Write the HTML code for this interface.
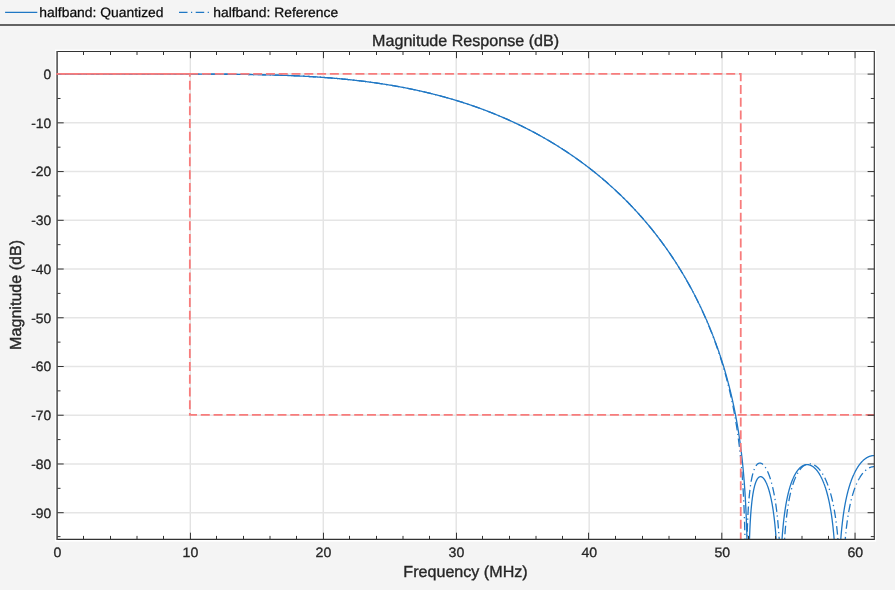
<!DOCTYPE html>
<html><head><meta charset="utf-8"><title>Magnitude Response</title>
<style>html,body{margin:0;padding:0;background:#f4f4f4;overflow:hidden}text{text-rendering:geometricPrecision}body{width:895px;height:590px;font-family:"Liberation Sans",sans-serif}</style></head>
<body>
<svg width="895" height="590" viewBox="0 0 895 590" style="display:block;will-change:transform">
<rect x="0" y="0" width="895" height="590" fill="#f4f4f4"/>
<rect x="0" y="24.0" width="895" height="2.0" fill="#636363"/>
<line x1="5.1" y1="12.35" x2="37.3" y2="12.35" stroke="#1f77c4" stroke-width="1.2"/>
<text transform="translate(39.3 16.7) scale(1.028 1)" font-size="13.5" font-family="Liberation Sans, sans-serif" fill="#0a0a0a" stroke="#0a0a0a" stroke-width="0.25">halfband: Quantized</text>
<line x1="179" y1="12.35" x2="209.5" y2="12.35" stroke="#1f77c4" stroke-width="1.2" stroke-dasharray="8.5 3.5 1.2 3.5"/>
<text transform="translate(213.2 16.7) scale(1.028 1)" font-size="13.5" font-family="Liberation Sans, sans-serif" fill="#0a0a0a" stroke="#0a0a0a" stroke-width="0.25">halfband: Reference</text>
<rect x="55" y="49.6" width="821.2" height="492.0" fill="#ffffff"/>
<line x1="190.26" y1="51.5" x2="190.26" y2="539.4" stroke="#dddddd" stroke-width="1.15"/>
<line x1="323.22" y1="51.5" x2="323.22" y2="539.4" stroke="#dddddd" stroke-width="1.15"/>
<line x1="456.18" y1="51.5" x2="456.18" y2="539.4" stroke="#dddddd" stroke-width="1.15"/>
<line x1="589.13" y1="51.5" x2="589.13" y2="539.4" stroke="#dddddd" stroke-width="1.15"/>
<line x1="722.09" y1="51.5" x2="722.09" y2="539.4" stroke="#dddddd" stroke-width="1.15"/>
<line x1="855.05" y1="51.5" x2="855.05" y2="539.4" stroke="#dddddd" stroke-width="1.15"/>
<line x1="57.0" y1="74.10" x2="874.3" y2="74.10" stroke="#e5e5e5" stroke-width="1.5"/>
<line x1="57.0" y1="122.83" x2="874.3" y2="122.83" stroke="#e5e5e5" stroke-width="1.5"/>
<line x1="57.0" y1="171.57" x2="874.3" y2="171.57" stroke="#e5e5e5" stroke-width="1.5"/>
<line x1="57.0" y1="220.30" x2="874.3" y2="220.30" stroke="#e5e5e5" stroke-width="1.5"/>
<line x1="57.0" y1="269.03" x2="874.3" y2="269.03" stroke="#e5e5e5" stroke-width="1.5"/>
<line x1="57.0" y1="317.77" x2="874.3" y2="317.77" stroke="#e5e5e5" stroke-width="1.5"/>
<line x1="57.0" y1="366.50" x2="874.3" y2="366.50" stroke="#e5e5e5" stroke-width="1.5"/>
<line x1="57.0" y1="415.23" x2="874.3" y2="415.23" stroke="#e5e5e5" stroke-width="1.5"/>
<line x1="57.0" y1="463.97" x2="874.3" y2="463.97" stroke="#e5e5e5" stroke-width="1.5"/>
<line x1="57.0" y1="512.70" x2="874.3" y2="512.70" stroke="#e5e5e5" stroke-width="1.5"/>
<clipPath id="c"><rect x="57.0" y="51.5" width="817.30" height="487.90"/></clipPath>
<g clip-path="url(#c)" fill="none" stroke-linejoin="round">
<path d="M57.30 74.10 L57.71 74.10 L58.12 74.10 L58.53 74.10 L58.93 74.10 L59.34 74.10 L59.75 74.10 L60.16 74.10 L60.57 74.10 L60.98 74.10 L61.39 74.10 L61.79 74.10 L62.20 74.10 L62.61 74.10 L63.02 74.10 L63.43 74.10 L63.84 74.10 L64.24 74.10 L64.65 74.10 L65.06 74.10 L65.47 74.10 L65.88 74.10 L66.29 74.10 L66.70 74.10 L67.10 74.10 L67.51 74.10 L67.92 74.10 L68.33 74.10 L68.74 74.10 L69.15 74.10 L69.56 74.10 L69.96 74.10 L70.37 74.10 L70.78 74.10 L71.19 74.10 L71.60 74.10 L72.01 74.10 L72.42 74.10 L72.82 74.10 L73.23 74.10 L73.64 74.10 L74.05 74.10 L74.46 74.10 L74.87 74.10 L75.27 74.10 L75.68 74.10 L76.09 74.10 L76.50 74.10 L76.91 74.10 L77.32 74.10 L77.73 74.10 L78.13 74.10 L78.54 74.10 L78.95 74.10 L79.36 74.10 L79.77 74.10 L80.18 74.10 L80.59 74.10 L80.99 74.10 L81.40 74.10 L81.81 74.10 L82.22 74.10 L82.63 74.10 L83.04 74.10 L83.45 74.10 L83.85 74.10 L84.26 74.10 L84.67 74.10 L85.08 74.10 L85.49 74.10 L85.90 74.10 L86.30 74.10 L86.71 74.10 L87.12 74.10 L87.53 74.10 L87.94 74.10 L88.35 74.10 L88.76 74.10 L89.16 74.10 L89.57 74.10 L89.98 74.10 L90.39 74.10 L90.80 74.10 L91.21 74.10 L91.62 74.10 L92.02 74.10 L92.43 74.10 L92.84 74.10 L93.25 74.10 L93.66 74.10 L94.07 74.10 L94.47 74.10 L94.88 74.10 L95.29 74.10 L95.70 74.10 L96.11 74.10 L96.52 74.10 L96.93 74.10 L97.33 74.10 L97.74 74.10 L98.15 74.10 L98.56 74.10 L98.97 74.10 L99.38 74.10 L99.79 74.10 L100.19 74.10 L100.60 74.10 L101.01 74.10 L101.42 74.10 L101.83 74.10 L102.24 74.10 L102.65 74.10 L103.05 74.10 L103.46 74.10 L103.87 74.10 L104.28 74.10 L104.69 74.10 L105.10 74.10 L105.50 74.10 L105.91 74.10 L106.32 74.10 L106.73 74.10 L107.14 74.10 L107.55 74.10 L107.96 74.10 L108.36 74.10 L108.77 74.10 L109.18 74.10 L109.59 74.10 L110.00 74.10 L110.41 74.10 L110.82 74.10 L111.22 74.10 L111.63 74.10 L112.04 74.10 L112.45 74.10 L112.86 74.10 L113.27 74.10 L113.68 74.10 L114.08 74.10 L114.49 74.10 L114.90 74.10 L115.31 74.10 L115.72 74.10 L116.13 74.10 L116.53 74.10 L116.94 74.10 L117.35 74.10 L117.76 74.10 L118.17 74.10 L118.58 74.10 L118.99 74.10 L119.39 74.10 L119.80 74.10 L120.21 74.10 L120.62 74.10 L121.03 74.10 L121.44 74.10 L121.85 74.10 L122.25 74.10 L122.66 74.10 L123.07 74.10 L123.48 74.10 L123.89 74.10 L124.30 74.10 L124.71 74.10 L125.11 74.10 L125.52 74.10 L125.93 74.10 L126.34 74.10 L126.75 74.10 L127.16 74.10 L127.56 74.10 L127.97 74.10 L128.38 74.10 L128.79 74.10 L129.20 74.10 L129.61 74.10 L130.02 74.10 L130.42 74.10 L130.83 74.10 L131.24 74.10 L131.65 74.10 L132.06 74.10 L132.47 74.10 L132.88 74.10 L133.28 74.10 L133.69 74.10 L134.10 74.10 L134.51 74.10 L134.92 74.10 L135.33 74.10 L135.74 74.10 L136.14 74.10 L136.55 74.10 L136.96 74.10 L137.37 74.10 L137.78 74.10 L138.19 74.10 L138.59 74.10 L139.00 74.10 L139.41 74.10 L139.82 74.10 L140.23 74.10 L140.64 74.10 L141.05 74.10 L141.45 74.10 L141.86 74.10 L142.27 74.10 L142.68 74.10 L143.09 74.10 L143.50 74.10 L143.91 74.10 L144.31 74.10 L144.72 74.10 L145.13 74.10 L145.54 74.10 L145.95 74.10 L146.36 74.10 L146.77 74.10 L147.17 74.10 L147.58 74.10 L147.99 74.10 L148.40 74.10 L148.81 74.10 L149.22 74.10 L149.62 74.10 L150.03 74.10 L150.44 74.10 L150.85 74.10 L151.26 74.10 L151.67 74.10 L152.08 74.10 L152.48 74.10 L152.89 74.10 L153.30 74.10 L153.71 74.10 L154.12 74.10 L154.53 74.10 L154.94 74.10 L155.34 74.10 L155.75 74.10 L156.16 74.10 L156.57 74.10 L156.98 74.10 L157.39 74.10 L157.79 74.10 L158.20 74.10 L158.61 74.10 L159.02 74.10 L159.43 74.10 L159.84 74.10 L160.25 74.10 L160.65 74.10 L161.06 74.10 L161.47 74.10 L161.88 74.10 L162.29 74.10 L162.70 74.10 L163.11 74.10 L163.51 74.10 L163.92 74.10 L164.33 74.10 L164.74 74.10 L165.15 74.10 L165.56 74.10 L165.97 74.10 L166.37 74.10 L166.78 74.10 L167.19 74.10 L167.60 74.10 L168.01 74.10 L168.42 74.10 L168.82 74.10 L169.23 74.10 L169.64 74.10 L170.05 74.10 L170.46 74.10 L170.87 74.10 L171.28 74.10 L171.68 74.10 L172.09 74.10 L172.50 74.10 L172.91 74.10 L173.32 74.10 L173.73 74.10 L174.14 74.10 L174.54 74.10 L174.95 74.10 L175.36 74.10 L175.77 74.10 L176.18 74.10 L176.59 74.10 L177.00 74.10 L177.40 74.10 L177.81 74.10 L178.22 74.10 L178.63 74.10 L179.04 74.10 L179.45 74.10 L179.85 74.10 L180.26 74.10 L180.67 74.10 L181.08 74.10 L181.49 74.10 L181.90 74.10 L182.31 74.10 L182.71 74.10 L183.12 74.10 L183.53 74.10 L183.94 74.10 L184.35 74.10 L184.76 74.10 L185.17 74.10 L185.57 74.10 L185.98 74.10 L186.39 74.10 L186.80 74.10 L187.21 74.10 L187.62 74.10 L188.03 74.10 L188.43 74.10 L188.84 74.10 L189.25 74.10 L189.66 74.10 L190.07 74.10 L190.48 74.10 L190.88 74.10 L191.29 74.11 L191.70 74.11 L192.11 74.11 L192.52 74.11 L192.93 74.11 L193.34 74.11 L193.74 74.11 L194.15 74.11 L194.56 74.11 L194.97 74.11 L195.38 74.11 L195.79 74.11 L196.20 74.11 L196.60 74.11 L197.01 74.11 L197.42 74.11 L197.83 74.12 L198.24 74.12 L198.65 74.12 L199.06 74.12 L199.46 74.12 L199.87 74.12 L200.28 74.12 L200.69 74.12 L201.10 74.12 L201.51 74.12 L201.91 74.12 L202.32 74.12 L202.73 74.13 L203.14 74.13 L203.55 74.13 L203.96 74.13 L204.37 74.13 L204.77 74.13 L205.18 74.13 L205.59 74.13 L206.00 74.13 L206.41 74.14 L206.82 74.14 L207.23 74.14 L207.63 74.14 L208.04 74.14 L208.45 74.14 L208.86 74.14 L209.27 74.15 L209.68 74.15 L210.09 74.15 L210.49 74.15 L210.90 74.15 L211.31 74.15 L211.72 74.15 L212.13 74.16 L212.54 74.16 L212.94 74.16 L213.35 74.16 L213.76 74.16 L214.17 74.17 L214.58 74.17 L214.99 74.17 L215.40 74.17 L215.80 74.17 L216.21 74.17 L216.62 74.18 L217.03 74.18 L217.44 74.18 L217.85 74.18 L218.26 74.18 L218.66 74.19 L219.07 74.19 L219.48 74.19 L219.89 74.19 L220.30 74.20 L220.71 74.20 L221.11 74.20 L221.52 74.20 L221.93 74.21 L222.34 74.21 L222.75 74.21 L223.16 74.21 L223.57 74.22 L223.97 74.22 L224.38 74.22 L224.79 74.22 L225.20 74.23 L225.61 74.23 L226.02 74.23 L226.43 74.24 L226.83 74.24 L227.24 74.24 L227.65 74.25 L228.06 74.25 L228.47 74.25 L228.88 74.26 L229.29 74.26 L229.69 74.26 L230.10 74.27 L230.51 74.27 L230.92 74.27 L231.33 74.28 L231.74 74.28 L232.14 74.28 L232.55 74.29 L232.96 74.29 L233.37 74.29 L233.78 74.30 L234.19 74.30 L234.60 74.31 L235.00 74.31 L235.41 74.31 L235.82 74.32 L236.23 74.32 L236.64 74.33 L237.05 74.33 L237.46 74.34 L237.86 74.34 L238.27 74.34 L238.68 74.35 L239.09 74.35 L239.50 74.36 L239.91 74.36 L240.32 74.37 L240.72 74.37 L241.13 74.38 L241.54 74.38 L241.95 74.39 L242.36 74.39 L242.77 74.40 L243.17 74.40 L243.58 74.41 L243.99 74.41 L244.40 74.42 L244.81 74.42 L245.22 74.43 L245.63 74.44 L246.03 74.44 L246.44 74.45 L246.85 74.45 L247.26 74.46 L247.67 74.46 L248.08 74.47 L248.49 74.48 L248.89 74.48 L249.30 74.49 L249.71 74.50 L250.12 74.50 L250.53 74.51 L250.94 74.52 L251.35 74.52 L251.75 74.53 L252.16 74.54 L252.57 74.54 L252.98 74.55 L253.39 74.56 L253.80 74.56 L254.20 74.57 L254.61 74.58 L255.02 74.58 L255.43 74.59 L255.84 74.60 L256.25 74.61 L256.66 74.61 L257.06 74.62 L257.47 74.63 L257.88 74.64 L258.29 74.65 L258.70 74.65 L259.11 74.66 L259.52 74.67 L259.92 74.68 L260.33 74.69 L260.74 74.70 L261.15 74.70 L261.56 74.71 L261.97 74.72 L262.38 74.73 L262.78 74.74 L263.19 74.75 L263.60 74.76 L264.01 74.77 L264.42 74.78 L264.83 74.79 L265.23 74.80 L265.64 74.81 L266.05 74.82 L266.46 74.82 L266.87 74.83 L267.28 74.84 L267.69 74.85 L268.09 74.87 L268.50 74.88 L268.91 74.89 L269.32 74.90 L269.73 74.91 L270.14 74.92 L270.55 74.93 L270.95 74.94 L271.36 74.95 L271.77 74.96 L272.18 74.97 L272.59 74.98 L273.00 75.00 L273.41 75.01 L273.81 75.02 L274.22 75.03 L274.63 75.04 L275.04 75.05 L275.45 75.07 L275.86 75.08 L276.26 75.09 L276.67 75.10 L277.08 75.12 L277.49 75.13 L277.90 75.14 L278.31 75.15 L278.72 75.17 L279.12 75.18 L279.53 75.19 L279.94 75.21 L280.35 75.22 L280.76 75.23 L281.17 75.25 L281.58 75.26 L281.98 75.27 L282.39 75.29 L282.80 75.30 L283.21 75.32 L283.62 75.33 L284.03 75.35 L284.43 75.36 L284.84 75.38 L285.25 75.39 L285.66 75.41 L286.07 75.42 L286.48 75.44 L286.89 75.45 L287.29 75.47 L287.70 75.48 L288.11 75.50 L288.52 75.51 L288.93 75.53 L289.34 75.55 L289.75 75.56 L290.15 75.58 L290.56 75.60 L290.97 75.61 L291.38 75.63 L291.79 75.65 L292.20 75.66 L292.61 75.68 L293.01 75.70 L293.42 75.71 L293.83 75.73 L294.24 75.75 L294.65 75.77 L295.06 75.79 L295.46 75.80 L295.87 75.82 L296.28 75.84 L296.69 75.86 L297.10 75.88 L297.51 75.90 L297.92 75.92 L298.32 75.94 L298.73 75.95 L299.14 75.97 L299.55 75.99 L299.96 76.01 L300.37 76.03 L300.78 76.05 L301.18 76.07 L301.59 76.09 L302.00 76.11 L302.41 76.14 L302.82 76.16 L303.23 76.18 L303.64 76.20 L304.04 76.22 L304.45 76.24 L304.86 76.26 L305.27 76.28 L305.68 76.31 L306.09 76.33 L306.49 76.35 L306.90 76.37 L307.31 76.40 L307.72 76.42 L308.13 76.44 L308.54 76.46 L308.95 76.49 L309.35 76.51 L309.76 76.53 L310.17 76.56 L310.58 76.58 L310.99 76.61 L311.40 76.63 L311.81 76.65 L312.21 76.68 L312.62 76.70 L313.03 76.73 L313.44 76.75 L313.85 76.78 L314.26 76.80 L314.67 76.83 L315.07 76.85 L315.48 76.88 L315.89 76.91 L316.30 76.93 L316.71 76.96 L317.12 76.98 L317.52 77.01 L317.93 77.04 L318.34 77.07 L318.75 77.09 L319.16 77.12 L319.57 77.15 L319.98 77.18 L320.38 77.20 L320.79 77.23 L321.20 77.26 L321.61 77.29 L322.02 77.32 L322.43 77.35 L322.84 77.37 L323.24 77.40 L323.65 77.43 L324.06 77.46 L324.47 77.49 L324.88 77.52 L325.29 77.55 L325.70 77.58 L326.10 77.61 L326.51 77.64 L326.92 77.67 L327.33 77.71 L327.74 77.74 L328.15 77.77 L328.55 77.80 L328.96 77.83 L329.37 77.86 L329.78 77.90 L330.19 77.93 L330.60 77.96 L331.01 77.99 L331.41 78.03 L331.82 78.06 L332.23 78.09 L332.64 78.13 L333.05 78.16 L333.46 78.20 L333.87 78.23 L334.27 78.26 L334.68 78.30 L335.09 78.33 L335.50 78.37 L335.91 78.40 L336.32 78.44 L336.73 78.47 L337.13 78.51 L337.54 78.55 L337.95 78.58 L338.36 78.62 L338.77 78.66 L339.18 78.69 L339.58 78.73 L339.99 78.77 L340.40 78.80 L340.81 78.84 L341.22 78.88 L341.63 78.92 L342.04 78.96 L342.44 79.00 L342.85 79.03 L343.26 79.07 L343.67 79.11 L344.08 79.15 L344.49 79.19 L344.90 79.23 L345.30 79.27 L345.71 79.31 L346.12 79.35 L346.53 79.39 L346.94 79.43 L347.35 79.47 L347.75 79.52 L348.16 79.56 L348.57 79.60 L348.98 79.64 L349.39 79.68 L349.80 79.73 L350.21 79.77 L350.61 79.81 L351.02 79.86 L351.43 79.90 L351.84 79.94 L352.25 79.99 L352.66 80.03 L353.07 80.08 L353.47 80.12 L353.88 80.16 L354.29 80.21 L354.70 80.25 L355.11 80.30 L355.52 80.35 L355.93 80.39 L356.33 80.44 L356.74 80.48 L357.15 80.53 L357.56 80.58 L357.97 80.63 L358.38 80.67 L358.78 80.72 L359.19 80.77 L359.60 80.82 L360.01 80.87 L360.42 80.91 L360.83 80.96 L361.24 81.01 L361.64 81.06 L362.05 81.11 L362.46 81.16 L362.87 81.21 L363.28 81.26 L363.69 81.31 L364.10 81.36 L364.50 81.41 L364.91 81.47 L365.32 81.52 L365.73 81.57 L366.14 81.62 L366.55 81.67 L366.96 81.73 L367.36 81.78 L367.77 81.83 L368.18 81.89 L368.59 81.94 L369.00 81.99 L369.41 82.05 L369.81 82.10 L370.22 82.16 L370.63 82.21 L371.04 82.27 L371.45 82.32 L371.86 82.38 L372.27 82.43 L372.67 82.49 L373.08 82.55 L373.49 82.60 L373.90 82.66 L374.31 82.72 L374.72 82.77 L375.13 82.83 L375.53 82.89 L375.94 82.95 L376.35 83.01 L376.76 83.07 L377.17 83.12 L377.58 83.18 L377.99 83.24 L378.39 83.30 L378.80 83.36 L379.21 83.42 L379.62 83.49 L380.03 83.55 L380.44 83.61 L380.84 83.67 L381.25 83.73 L381.66 83.79 L382.07 83.86 L382.48 83.92 L382.89 83.98 L383.30 84.04 L383.70 84.11 L384.11 84.17 L384.52 84.24 L384.93 84.30 L385.34 84.37 L385.75 84.43 L386.16 84.50 L386.56 84.56 L386.97 84.63 L387.38 84.69 L387.79 84.76 L388.20 84.83 L388.61 84.89 L389.02 84.96 L389.42 85.03 L389.83 85.10 L390.24 85.16 L390.65 85.23 L391.06 85.30 L391.47 85.37 L391.87 85.44 L392.28 85.51 L392.69 85.58 L393.10 85.65 L393.51 85.72 L393.92 85.79 L394.33 85.86 L394.73 85.93 L395.14 86.00 L395.55 86.08 L395.96 86.15 L396.37 86.22 L396.78 86.29 L397.19 86.37 L397.59 86.44 L398.00 86.51 L398.41 86.59 L398.82 86.66 L399.23 86.74 L399.64 86.81 L400.04 86.89 L400.45 86.96 L400.86 87.04 L401.27 87.11 L401.68 87.19 L402.09 87.27 L402.50 87.34 L402.90 87.42 L403.31 87.50 L403.72 87.58 L404.13 87.66 L404.54 87.73 L404.95 87.81 L405.36 87.89 L405.76 87.97 L406.17 88.05 L406.58 88.13 L406.99 88.21 L407.40 88.29 L407.81 88.37 L408.22 88.46 L408.62 88.54 L409.03 88.62 L409.44 88.70 L409.85 88.79 L410.26 88.87 L410.67 88.95 L411.07 89.04 L411.48 89.12 L411.89 89.20 L412.30 89.29 L412.71 89.37 L413.12 89.46 L413.53 89.54 L413.93 89.63 L414.34 89.72 L414.75 89.80 L415.16 89.89 L415.57 89.98 L415.98 90.07 L416.39 90.15 L416.79 90.24 L417.20 90.33 L417.61 90.42 L418.02 90.51 L418.43 90.60 L418.84 90.69 L419.25 90.78 L419.65 90.87 L420.06 90.96 L420.47 91.05 L420.88 91.14 L421.29 91.24 L421.70 91.33 L422.10 91.42 L422.51 91.51 L422.92 91.61 L423.33 91.70 L423.74 91.80 L424.15 91.89 L424.56 91.98 L424.96 92.08 L425.37 92.18 L425.78 92.27 L426.19 92.37 L426.60 92.46 L427.01 92.56 L427.42 92.66 L427.82 92.76 L428.23 92.85 L428.64 92.95 L429.05 93.05 L429.46 93.15 L429.87 93.25 L430.28 93.35 L430.68 93.45 L431.09 93.55 L431.50 93.65 L431.91 93.75 L432.32 93.85 L432.73 93.95 L433.13 94.06 L433.54 94.16 L433.95 94.26 L434.36 94.36 L434.77 94.47 L435.18 94.57 L435.59 94.68 L435.99 94.78 L436.40 94.89 L436.81 94.99 L437.22 95.10 L437.63 95.20 L438.04 95.31 L438.45 95.42 L438.85 95.52 L439.26 95.63 L439.67 95.74 L440.08 95.85 L440.49 95.96 L440.90 96.07 L441.31 96.18 L441.71 96.29 L442.12 96.40 L442.53 96.51 L442.94 96.62 L443.35 96.73 L443.76 96.84 L444.16 96.95 L444.57 97.07 L444.98 97.18 L445.39 97.29 L445.80 97.41 L446.21 97.52 L446.62 97.64 L447.02 97.75 L447.43 97.87 L447.84 97.98 L448.25 98.10 L448.66 98.21 L448.93 98.29 L449.20 98.37 L449.48 98.45 L449.75 98.53 L450.02 98.60 L450.29 98.68 L450.56 98.76 L450.84 98.84 L451.11 98.92 L451.38 99.00 L451.65 99.08 L451.93 99.16 L452.20 99.24 L452.47 99.32 L452.74 99.40 L453.02 99.48 L453.29 99.56 L453.56 99.64 L453.83 99.72 L454.11 99.80 L454.38 99.88 L454.65 99.97 L454.92 100.05 L455.19 100.13 L455.47 100.21 L455.74 100.29 L456.01 100.38 L456.28 100.46 L456.56 100.54 L456.83 100.62 L457.10 100.71 L457.37 100.79 L457.65 100.87 L457.92 100.96 L458.19 101.04 L458.46 101.13 L458.74 101.21 L459.01 101.29 L459.28 101.38 L459.55 101.46 L459.82 101.55 L460.10 101.63 L460.37 101.72 L460.64 101.80 L460.91 101.89 L461.19 101.98 L461.46 102.06 L461.73 102.15 L462.00 102.23 L462.28 102.32 L462.55 102.41 L462.82 102.49 L463.09 102.58 L463.36 102.67 L463.64 102.76 L463.91 102.84 L464.18 102.93 L464.45 103.02 L464.73 103.11 L465.00 103.20 L465.27 103.28 L465.54 103.37 L465.82 103.46 L466.09 103.55 L466.36 103.64 L466.63 103.73 L466.91 103.82 L467.18 103.91 L467.45 104.00 L467.72 104.09 L467.99 104.18 L468.27 104.27 L468.54 104.36 L468.81 104.45 L469.08 104.54 L469.36 104.64 L469.63 104.73 L469.90 104.82 L470.17 104.91 L470.45 105.00 L470.72 105.10 L470.99 105.19 L471.26 105.28 L471.54 105.37 L471.81 105.47 L472.08 105.56 L472.35 105.65 L472.62 105.75 L472.90 105.84 L473.17 105.94 L473.44 106.03 L473.71 106.13 L473.99 106.22 L474.26 106.31 L474.53 106.41 L474.80 106.51 L475.08 106.60 L475.35 106.70 L475.62 106.79 L475.89 106.89 L476.17 106.98 L476.44 107.08 L476.71 107.18 L476.98 107.27 L477.25 107.37 L477.53 107.47 L477.80 107.57 L478.07 107.66 L478.34 107.76 L478.62 107.86 L478.89 107.96 L479.16 108.06 L479.43 108.16 L479.71 108.25 L479.98 108.35 L480.25 108.45 L480.52 108.55 L480.80 108.65 L481.07 108.75 L481.34 108.85 L481.61 108.95 L481.88 109.05 L482.16 109.15 L482.43 109.25 L482.70 109.35 L482.97 109.46 L483.25 109.56 L483.52 109.66 L483.79 109.76 L484.06 109.86 L484.34 109.97 L484.61 110.07 L484.88 110.17 L485.15 110.27 L485.42 110.38 L485.70 110.48 L485.97 110.58 L486.24 110.69 L486.51 110.79 L486.79 110.90 L487.06 111.00 L487.33 111.10 L487.60 111.21 L487.88 111.31 L488.15 111.42 L488.42 111.52 L488.69 111.63 L488.97 111.74 L489.24 111.84 L489.51 111.95 L489.78 112.05 L490.05 112.16 L490.33 112.27 L490.60 112.37 L490.87 112.48 L491.14 112.59 L491.42 112.70 L491.69 112.81 L491.96 112.91 L492.23 113.02 L492.51 113.13 L492.78 113.24 L493.05 113.35 L493.32 113.46 L493.60 113.57 L493.87 113.68 L494.14 113.79 L494.41 113.90 L494.68 114.01 L494.96 114.12 L495.23 114.23 L495.50 114.34 L495.77 114.45 L496.05 114.56 L496.32 114.67 L496.59 114.78 L496.86 114.90 L497.14 115.01 L497.41 115.12 L497.68 115.23 L497.95 115.35 L498.23 115.46 L498.50 115.57 L498.77 115.69 L499.04 115.80 L499.31 115.91 L499.59 116.03 L499.86 116.14 L500.13 116.26 L500.40 116.37 L500.68 116.49 L500.95 116.60 L501.22 116.72 L501.49 116.83 L501.77 116.95 L502.04 117.07 L502.31 117.18 L502.58 117.30 L502.85 117.42 L503.13 117.53 L503.40 117.65 L503.67 117.77 L503.94 117.89 L504.22 118.00 L504.49 118.12 L504.76 118.24 L505.03 118.36 L505.31 118.48 L505.58 118.60 L505.85 118.72 L506.12 118.84 L506.40 118.96 L506.67 119.08 L506.94 119.20 L507.21 119.32 L507.48 119.44 L507.76 119.56 L508.03 119.68 L508.30 119.80 L508.57 119.92 L508.85 120.04 L509.12 120.17 L509.39 120.29 L509.66 120.41 L509.94 120.53 L510.21 120.66 L510.48 120.78 L510.75 120.90 L511.03 121.03 L511.30 121.15 L511.57 121.28 L511.84 121.40 L512.11 121.53 L512.39 121.65 L512.66 121.78 L512.93 121.90 L513.20 122.03 L513.48 122.15 L513.75 122.28 L514.02 122.41 L514.29 122.53 L514.57 122.66 L514.84 122.79 L515.11 122.91 L515.38 123.04 L515.66 123.17 L515.93 123.30 L516.20 123.42 L516.47 123.55 L516.74 123.68 L517.02 123.81 L517.29 123.94 L517.56 124.07 L517.83 124.20 L518.11 124.33 L518.38 124.46 L518.65 124.59 L518.92 124.72 L519.20 124.85 L519.47 124.98 L519.74 125.11 L520.01 125.25 L520.28 125.38 L520.56 125.51 L520.83 125.64 L521.10 125.78 L521.37 125.91 L521.65 126.04 L521.92 126.18 L522.19 126.31 L522.46 126.44 L522.74 126.58 L523.01 126.71 L523.28 126.85 L523.55 126.98 L523.83 127.12 L524.10 127.25 L524.37 127.39 L524.64 127.52 L524.91 127.66 L525.19 127.80 L525.46 127.93 L525.73 128.07 L526.00 128.21 L526.28 128.34 L526.55 128.48 L526.82 128.62 L527.09 128.76 L527.37 128.90 L527.64 129.04 L527.91 129.17 L528.18 129.31 L528.46 129.45 L528.73 129.59 L529.00 129.73 L529.27 129.87 L529.54 130.01 L529.82 130.15 L530.09 130.30 L530.36 130.44 L530.63 130.58 L530.91 130.72 L531.18 130.86 L531.45 131.01 L531.72 131.15 L532.00 131.29 L532.27 131.43 L532.54 131.58 L532.81 131.72 L533.09 131.87 L533.36 132.01 L533.63 132.15 L533.90 132.30 L534.17 132.44 L534.45 132.59 L534.72 132.73 L534.99 132.88 L535.26 133.03 L535.54 133.17 L535.81 133.32 L536.08 133.47 L536.35 133.61 L536.63 133.76 L536.90 133.91 L537.17 134.06 L537.44 134.21 L537.71 134.35 L537.99 134.50 L538.26 134.65 L538.53 134.80 L538.80 134.95 L539.08 135.10 L539.35 135.25 L539.62 135.40 L539.89 135.55 L540.17 135.70 L540.44 135.85 L540.71 136.01 L540.98 136.16 L541.26 136.31 L541.53 136.46 L541.80 136.62 L542.07 136.77 L542.34 136.92 L542.62 137.08 L542.89 137.23 L543.16 137.38 L543.43 137.54 L543.71 137.69 L543.98 137.85 L544.25 138.00 L544.52 138.16 L544.80 138.31 L545.07 138.47 L545.34 138.63 L545.61 138.78 L545.89 138.94 L546.16 139.10 L546.43 139.26 L546.70 139.41 L546.97 139.57 L547.25 139.73 L547.52 139.89 L547.79 140.05 L548.06 140.21 L548.34 140.37 L548.61 140.53 L548.88 140.69 L549.15 140.85 L549.43 141.01 L549.70 141.17 L549.97 141.33 L550.24 141.49 L550.52 141.65 L550.79 141.82 L551.06 141.98 L551.33 142.14 L551.60 142.30 L551.88 142.47 L552.15 142.63 L552.42 142.80 L552.69 142.96 L552.97 143.12 L553.24 143.29 L553.51 143.45 L553.78 143.62 L554.06 143.79 L554.33 143.95 L554.60 144.12 L554.87 144.28 L555.14 144.45 L555.42 144.62 L555.69 144.79 L555.96 144.95 L556.23 145.12 L556.51 145.29 L556.78 145.46 L557.05 145.63 L557.32 145.80 L557.60 145.97 L557.87 146.14 L558.14 146.31 L558.41 146.48 L558.69 146.65 L558.96 146.82 L559.23 146.99 L559.50 147.17 L559.77 147.34 L560.05 147.51 L560.32 147.68 L560.59 147.86 L560.86 148.03 L561.14 148.21 L561.41 148.38 L561.68 148.55 L561.95 148.73 L562.23 148.90 L562.50 149.08 L562.77 149.26 L563.04 149.43 L563.32 149.61 L563.59 149.78 L563.86 149.96 L564.13 150.14 L564.40 150.32 L564.68 150.50 L564.95 150.67 L565.22 150.85 L565.49 151.03 L565.77 151.21 L566.04 151.39 L566.31 151.57 L566.58 151.75 L566.86 151.93 L567.13 152.11 L567.40 152.29 L567.67 152.48 L567.95 152.66 L568.22 152.84 L568.49 153.02 L568.76 153.21 L569.03 153.39 L569.31 153.57 L569.58 153.76 L569.85 153.94 L570.12 154.13 L570.40 154.31 L570.67 154.50 L570.94 154.68 L571.21 154.87 L571.49 155.06 L571.76 155.24 L572.03 155.43 L572.30 155.62 L572.57 155.80 L572.85 155.99 L573.12 156.18 L573.39 156.37 L573.66 156.56 L573.94 156.75 L574.21 156.94 L574.48 157.13 L574.75 157.32 L575.03 157.51 L575.30 157.70 L575.57 157.89 L575.84 158.09 L576.12 158.28 L576.39 158.47 L576.66 158.66 L576.93 158.86 L577.20 159.05 L577.48 159.24 L577.75 159.44 L578.02 159.63 L578.29 159.83 L578.57 160.02 L578.84 160.22 L579.11 160.42 L579.38 160.61 L579.66 160.81 L579.93 161.01 L580.20 161.21 L580.47 161.40 L580.75 161.60 L581.02 161.80 L581.29 162.00 L581.56 162.20 L581.83 162.40 L582.11 162.60 L582.38 162.80 L582.65 163.00 L582.92 163.20 L583.20 163.41 L583.47 163.61 L583.74 163.81 L584.01 164.01 L584.29 164.22 L584.56 164.42 L584.83 164.62 L585.10 164.83 L585.38 165.03 L585.65 165.24 L585.92 165.45 L586.19 165.65 L586.46 165.86 L586.74 166.06 L587.01 166.27 L587.28 166.48 L587.55 166.69 L587.83 166.90 L588.10 167.10 L588.37 167.31 L588.64 167.52 L588.92 167.73 L589.19 167.94 L589.46 168.15 L589.73 168.36 L590.00 168.58 L590.28 168.79 L590.55 169.00 L590.82 169.21 L591.09 169.43 L591.37 169.64 L591.64 169.85 L591.91 170.07 L592.18 170.28 L592.46 170.50 L592.73 170.71 L593.00 170.93 L593.27 171.15 L593.55 171.36 L593.82 171.58 L594.09 171.80 L594.36 172.01 L594.63 172.23 L594.91 172.45 L595.18 172.67 L595.45 172.89 L595.72 173.11 L596.00 173.33 L596.27 173.55 L596.54 173.77 L596.81 173.99 L597.09 174.22 L597.36 174.44 L597.63 174.66 L597.90 174.89 L598.18 175.11 L598.45 175.33 L598.72 175.56 L598.99 175.78 L599.26 176.01 L599.54 176.23 L599.81 176.46 L600.08 176.69 L600.35 176.92 L600.63 177.14 L600.90 177.37 L601.17 177.60 L601.44 177.83 L601.72 178.06 L601.99 178.29 L602.26 178.52 L602.53 178.75 L602.81 178.98 L603.08 179.21 L603.35 179.44 L603.62 179.68 L603.89 179.91 L604.17 180.14 L604.44 180.38 L604.71 180.61 L604.98 180.85 L605.26 181.08 L605.53 181.32 L605.80 181.55 L606.07 181.79 L606.35 182.03 L606.62 182.26 L606.89 182.50 L607.16 182.74 L607.43 182.98 L607.71 183.22 L607.98 183.46 L608.25 183.70 L608.52 183.94 L608.80 184.18 L609.07 184.42 L609.34 184.67 L609.61 184.91 L609.89 185.15 L610.16 185.39 L610.43 185.64 L610.70 185.88 L610.98 186.13 L611.25 186.37 L611.52 186.62 L611.79 186.87 L612.06 187.11 L612.34 187.36 L612.61 187.61 L612.88 187.86 L613.15 188.11 L613.43 188.36 L613.70 188.61 L613.97 188.86 L614.24 189.11 L614.52 189.36 L614.79 189.61 L615.06 189.86 L615.33 190.12 L615.61 190.37 L615.88 190.62 L616.15 190.88 L616.42 191.13 L616.69 191.39 L616.97 191.64 L617.24 191.90 L617.51 192.16 L617.78 192.41 L618.06 192.67 L618.33 192.93 L618.60 193.19 L618.87 193.45 L619.15 193.71 L619.42 193.97 L619.69 194.23 L619.96 194.49 L620.24 194.76 L620.51 195.02 L620.78 195.28 L621.05 195.55 L621.32 195.81 L621.60 196.07 L621.87 196.34 L622.14 196.61 L622.41 196.87 L622.69 197.14 L622.96 197.41 L623.23 197.68 L623.50 197.94 L623.78 198.21 L624.05 198.48 L624.32 198.75 L624.59 199.02 L624.87 199.30 L625.14 199.57 L625.41 199.84 L625.68 200.11 L625.95 200.39 L626.23 200.66 L626.50 200.94 L626.77 201.21 L627.04 201.49 L627.32 201.76 L627.59 202.04 L627.86 202.32 L628.13 202.60 L628.41 202.88 L628.68 203.15 L628.95 203.43 L629.22 203.72 L629.49 204.00 L629.77 204.28 L630.04 204.56 L630.31 204.84 L630.58 205.13 L630.86 205.41 L631.13 205.70 L631.40 205.98 L631.67 206.27 L631.95 206.55 L632.22 206.84 L632.49 207.13 L632.76 207.42 L633.04 207.71 L633.31 208.00 L633.58 208.29 L633.85 208.58 L634.12 208.87 L634.40 209.16 L634.67 209.45 L634.94 209.75 L635.21 210.04 L635.49 210.33 L635.76 210.63 L636.03 210.93 L636.30 211.22 L636.58 211.52 L636.85 211.82 L637.12 212.12 L637.39 212.41 L637.67 212.71 L637.94 213.01 L638.21 213.32 L638.48 213.62 L638.75 213.92 L639.03 214.22 L639.30 214.53 L639.57 214.83 L639.84 215.14 L640.12 215.44 L640.39 215.75 L640.66 216.05 L640.93 216.36 L641.21 216.67 L641.48 216.98 L641.75 217.29 L642.02 217.60 L642.30 217.91 L642.57 218.22 L642.84 218.54 L643.11 218.85 L643.38 219.16 L643.66 219.48 L643.93 219.79 L644.20 220.11 L644.47 220.42 L644.75 220.74 L645.02 221.06 L645.29 221.38 L645.56 221.70 L645.84 222.02 L646.11 222.34 L646.38 222.66 L646.65 222.98 L646.92 223.31 L647.20 223.63 L647.47 223.96 L647.74 224.28 L648.01 224.61 L648.29 224.93 L648.56 225.26 L648.83 225.59 L649.10 225.92 L649.38 226.25 L649.65 226.58 L649.92 226.91 L650.19 227.24 L650.47 227.58 L650.74 227.91 L651.01 228.25 L651.28 228.58 L651.55 228.92 L651.83 229.26 L652.10 229.59 L652.37 229.93 L652.64 230.27 L652.92 230.61 L653.19 230.95 L653.46 231.29 L653.73 231.64 L654.01 231.98 L654.28 232.32 L654.55 232.67 L654.82 233.02 L655.10 233.36 L655.37 233.71 L655.64 234.06 L655.91 234.41 L656.18 234.76 L656.46 235.11 L656.73 235.46 L657.00 235.81 L657.27 236.17 L657.55 236.52 L657.82 236.88 L658.09 237.23 L658.36 237.59 L658.64 237.95 L658.91 238.31 L659.18 238.67 L659.45 239.03 L659.73 239.39 L660.00 239.75 L660.27 240.11 L660.54 240.48 L660.81 240.84 L661.09 241.21 L661.36 241.58 L661.63 241.94 L661.90 242.31 L662.18 242.68 L662.45 243.05 L662.72 243.42 L662.99 243.80 L663.27 244.17 L663.54 244.54 L663.81 244.92 L664.08 245.30 L664.35 245.67 L664.63 246.05 L664.90 246.43 L665.17 246.81 L665.44 247.19 L665.72 247.57 L665.99 247.96 L666.26 248.34 L666.53 248.73 L666.81 249.11 L667.08 249.50 L667.35 249.89 L667.62 250.28 L667.90 250.67 L668.17 251.06 L668.44 251.45 L668.71 251.85 L668.98 252.24 L669.26 252.64 L669.53 253.03 L669.80 253.43 L670.07 253.83 L670.35 254.23 L670.62 254.63 L670.89 255.03 L671.16 255.44 L671.44 255.84 L671.71 256.25 L671.98 256.65 L672.25 257.06 L672.53 257.47 L672.80 257.88 L673.07 258.29 L673.34 258.70 L673.61 259.12 L673.89 259.53 L674.16 259.95 L674.43 260.36 L674.70 260.78 L674.98 261.20 L675.25 261.62 L675.52 262.04 L675.79 262.47 L676.07 262.89 L676.34 263.32 L676.61 263.74 L676.88 264.17 L677.02 264.39 L677.16 264.60 L677.29 264.81 L677.43 265.03 L677.56 265.25 L677.70 265.46 L677.84 265.68 L677.97 265.89 L678.11 266.11 L678.24 266.33 L678.38 266.55 L678.52 266.76 L678.65 266.98 L678.79 267.20 L678.93 267.42 L679.06 267.64 L679.20 267.86 L679.33 268.08 L679.47 268.30 L679.61 268.52 L679.74 268.74 L679.88 268.96 L680.01 269.18 L680.15 269.40 L680.29 269.63 L680.42 269.85 L680.56 270.07 L680.70 270.30 L680.83 270.52 L680.97 270.74 L681.10 270.97 L681.24 271.19 L681.38 271.42 L681.51 271.64 L681.65 271.87 L681.78 272.09 L681.92 272.32 L682.06 272.55 L682.19 272.77 L682.33 273.00 L682.47 273.23 L682.60 273.46 L682.74 273.68 L682.87 273.91 L683.01 274.14 L683.15 274.37 L683.28 274.60 L683.42 274.83 L683.56 275.06 L683.69 275.29 L683.83 275.52 L683.96 275.76 L684.10 275.99 L684.24 276.22 L684.37 276.45 L684.51 276.69 L684.64 276.92 L684.78 277.15 L684.92 277.39 L685.05 277.62 L685.19 277.86 L685.33 278.09 L685.46 278.33 L685.60 278.56 L685.73 278.80 L685.87 279.04 L686.01 279.27 L686.14 279.51 L686.28 279.75 L686.41 279.99 L686.55 280.23 L686.69 280.47 L686.82 280.71 L686.96 280.95 L687.10 281.19 L687.23 281.43 L687.37 281.67 L687.50 281.91 L687.64 282.15 L687.78 282.39 L687.91 282.64 L688.05 282.88 L688.19 283.12 L688.32 283.37 L688.46 283.61 L688.59 283.86 L688.73 284.10 L688.87 284.35 L689.00 284.59 L689.14 284.84 L689.27 285.09 L689.41 285.33 L689.55 285.58 L689.68 285.83 L689.82 286.08 L689.96 286.33 L690.09 286.58 L690.23 286.83 L690.36 287.08 L690.50 287.33 L690.64 287.58 L690.77 287.83 L690.91 288.08 L691.04 288.33 L691.18 288.59 L691.32 288.84 L691.45 289.09 L691.59 289.35 L691.73 289.60 L691.86 289.86 L692.00 290.11 L692.13 290.37 L692.27 290.63 L692.41 290.88 L692.54 291.14 L692.68 291.40 L692.81 291.66 L692.95 291.92 L693.09 292.18 L693.22 292.44 L693.36 292.70 L693.50 292.96 L693.63 293.22 L693.77 293.48 L693.90 293.74 L694.04 294.00 L694.18 294.27 L694.31 294.53 L694.45 294.79 L694.59 295.06 L694.72 295.32 L694.86 295.59 L694.99 295.86 L695.13 296.12 L695.27 296.39 L695.40 296.66 L695.54 296.92 L695.67 297.19 L695.81 297.46 L695.95 297.73 L696.08 298.00 L696.22 298.27 L696.36 298.54 L696.49 298.81 L696.63 299.09 L696.76 299.36 L696.90 299.63 L697.04 299.91 L697.17 300.18 L697.31 300.45 L697.44 300.73 L697.58 301.00 L697.72 301.28 L697.85 301.56 L697.99 301.84 L698.13 302.11 L698.26 302.39 L698.40 302.67 L698.53 302.95 L698.67 303.23 L698.81 303.51 L698.94 303.79 L699.08 304.07 L699.21 304.36 L699.35 304.64 L699.49 304.92 L699.62 305.21 L699.76 305.49 L699.90 305.78 L700.03 306.06 L700.17 306.35 L700.30 306.64 L700.44 306.92 L700.58 307.21 L700.71 307.50 L700.85 307.79 L700.99 308.08 L701.12 308.37 L701.26 308.66 L701.39 308.95 L701.53 309.24 L701.67 309.54 L701.80 309.83 L701.94 310.12 L702.07 310.42 L702.21 310.72 L702.35 311.01 L702.48 311.31 L702.62 311.61 L702.76 311.90 L702.89 312.20 L703.03 312.50 L703.16 312.80 L703.30 313.10 L703.44 313.40 L703.57 313.70 L703.71 314.01 L703.84 314.31 L703.98 314.61 L704.12 314.92 L704.25 315.22 L704.39 315.53 L704.53 315.84 L704.66 316.14 L704.80 316.45 L704.93 316.76 L705.07 317.07 L705.21 317.38 L705.34 317.69 L705.48 318.00 L705.62 318.31 L705.75 318.63 L705.89 318.94 L706.02 319.25 L706.16 319.57 L706.30 319.88 L706.43 320.20 L706.57 320.52 L706.70 320.84 L706.84 321.15 L706.98 321.47 L707.11 321.79 L707.25 322.12 L707.39 322.44 L707.52 322.76 L707.66 323.08 L707.79 323.41 L707.93 323.73 L708.07 324.06 L708.20 324.38 L708.34 324.71 L708.47 325.04 L708.61 325.37 L708.75 325.70 L708.88 326.03 L709.02 326.36 L709.16 326.69 L709.29 327.02 L709.43 327.36 L709.56 327.69 L709.70 328.03 L709.84 328.36 L709.97 328.70 L710.11 329.04 L710.24 329.38 L710.38 329.72 L710.52 330.06 L710.65 330.40 L710.79 330.74 L710.93 331.09 L711.06 331.43 L711.20 331.77 L711.33 332.12 L711.47 332.47 L711.61 332.82 L711.74 333.16 L711.88 333.51 L712.02 333.86 L712.15 334.22 L712.29 334.57 L712.42 334.92 L712.56 335.28 L712.70 335.63 L712.83 335.99 L712.97 336.35 L713.10 336.70 L713.24 337.06 L713.38 337.42 L713.51 337.78 L713.65 338.15 L713.79 338.51 L713.92 338.88 L714.06 339.24 L714.19 339.61 L714.33 339.97 L714.47 340.34 L714.60 340.71 L714.74 341.08 L714.87 341.46 L715.01 341.83 L715.15 342.20 L715.28 342.58 L715.42 342.95 L715.56 343.33 L715.69 343.71 L715.83 344.09 L715.96 344.47 L716.10 344.85 L716.24 345.24 L716.37 345.62 L716.51 346.01 L716.64 346.39 L716.78 346.78 L716.92 347.17 L717.05 347.56 L717.19 347.95 L717.33 348.35 L717.46 348.74 L717.60 349.14 L717.73 349.53 L717.87 349.93 L718.01 350.33 L718.14 350.73 L718.28 351.13 L718.42 351.54 L718.55 351.94 L718.69 352.35 L718.82 352.75 L718.96 353.16 L719.10 353.57 L719.23 353.98 L719.37 354.40 L719.50 354.81 L719.64 355.23 L719.78 355.64 L719.91 356.06 L720.05 356.48 L720.19 356.90 L720.32 357.33 L720.46 357.75 L720.59 358.18 L720.73 358.61 L720.87 359.04 L721.00 359.47 L721.14 359.90 L721.27 360.33 L721.41 360.77 L721.55 361.21 L721.68 361.65 L721.82 362.09 L721.96 362.53 L722.09 362.97 L722.23 363.42 L722.36 363.87 L722.50 364.31 L722.64 364.77 L722.77 365.22 L722.91 365.67 L723.05 366.13 L723.18 366.59 L723.32 367.05 L723.45 367.51 L723.59 367.97 L723.73 368.44 L723.86 368.91 L724.00 369.38 L724.13 369.85 L724.27 370.32 L724.41 370.80 L724.54 371.28 L724.68 371.76 L724.82 372.24 L724.95 372.72 L725.09 373.21 L725.22 373.70 L725.36 374.19 L725.50 374.68 L725.63 375.17 L725.77 375.67 L725.90 376.17 L726.04 376.67 L726.18 377.18 L726.31 377.68 L726.45 378.19 L726.59 378.70 L726.72 379.22 L726.86 379.73 L726.99 380.25 L727.13 380.77 L727.27 381.30 L727.40 381.83 L727.54 382.36 L727.67 382.89 L727.81 383.42 L727.95 383.96 L728.08 384.50 L728.22 385.04 L728.36 385.59 L728.49 386.14 L728.63 386.69 L728.76 387.25 L728.90 387.81 L729.04 388.37 L729.17 388.93 L729.31 389.50 L729.45 390.07 L729.58 390.64 L729.72 391.22 L729.85 391.80 L729.99 392.39 L730.13 392.97 L730.26 393.57 L730.40 394.16 L730.53 394.76 L730.67 395.36 L730.81 395.97 L730.94 396.58 L731.08 397.19 L731.22 397.81 L731.35 398.43 L731.49 399.06 L731.62 399.69 L731.76 400.32 L731.90 400.96 L732.03 401.61 L732.17 402.25 L732.30 402.91 L732.44 403.56 L732.58 404.23 L732.71 404.89 L732.85 405.56 L732.99 406.24 L733.12 406.92 L733.26 407.61 L733.39 408.30 L733.53 409.00 L733.67 409.70 L733.80 410.41 L733.94 411.13 L734.07 411.85 L734.21 412.58 L734.35 413.31 L734.48 414.05 L734.62 414.79 L734.76 415.55 L734.89 416.31 L735.03 417.07 L735.16 417.85 L735.30 418.63 L735.44 419.41 L735.57 420.21 L735.71 421.01 L735.85 421.82 L735.98 422.64 L736.12 423.47 L736.25 424.31 L736.39 425.15 L736.53 426.01 L736.66 426.87 L736.80 427.74 L736.93 428.63 L737.07 429.52 L737.21 430.42 L737.34 431.34 L737.48 432.26 L737.62 433.20 L737.75 434.15 L737.89 435.11 L738.02 436.09 L738.16 437.07 L738.30 438.07 L738.43 439.09 L738.57 440.12 L738.70 441.16 L738.84 442.22 L738.98 443.30 L739.11 444.39 L739.25 445.50 L739.39 446.63 L739.52 447.77 L739.66 448.94 L739.79 450.13 L739.93 451.33 L740.07 452.56 L740.20 453.82 L740.34 455.09 L740.48 456.40 L740.61 457.73 L740.75 459.09 L740.88 460.47 L741.02 461.89 L741.16 463.34 L741.29 464.83 L741.43 466.35 L741.56 467.92 L741.70 469.52 L741.84 471.17 L741.97 472.86 L742.11 474.61 L742.25 476.41 L742.38 478.26 L742.52 480.18 L742.65 482.17 L742.79 484.23 L742.93 486.37 L743.06 488.59 L743.20 490.91 L743.33 493.34 L743.47 495.88 L743.61 498.54 L743.74 501.36 L743.88 504.33 L744.02 507.49 L744.15 510.86 L744.29 514.47 L744.42 518.37 L744.56 522.60 L744.70 527.25 L744.83 532.39 L744.97 538.17 L745.10 544.77 L745.24 552.48 L745.38 561.78 L745.51 573.52 L745.65 589.57 L745.79 610.17 L746.19 599.94 L746.33 581.39 L746.47 568.69 L746.60 559.06 L746.74 551.32 L746.88 544.87 L747.01 539.34 L747.15 534.52 L747.28 530.26 L747.42 526.44 L747.56 522.98 L747.69 519.84 L747.83 516.95 L747.96 514.29 L748.10 511.82 L748.24 509.53 L748.37 507.38 L748.51 505.37 L748.65 503.48 L748.78 501.70 L748.92 500.02 L749.05 498.43 L749.19 496.92 L749.33 495.49 L749.46 494.13 L749.60 492.83 L749.73 491.60 L749.87 490.41 L750.01 489.28 L750.14 488.20 L750.28 487.17 L750.42 486.18 L750.55 485.22 L750.69 484.31 L750.82 483.43 L750.96 482.59 L751.10 481.78 L751.23 481.00 L751.37 480.24 L751.51 479.52 L751.64 478.82 L751.78 478.15 L751.91 477.50 L752.05 476.88 L752.19 476.27 L752.32 475.69 L752.46 475.13 L752.59 474.59 L752.73 474.07 L752.87 473.56 L753.00 473.08 L753.14 472.61 L753.28 472.15 L753.41 471.72 L753.55 471.29 L753.68 470.89 L753.82 470.49 L753.96 470.11 L754.09 469.75 L754.23 469.39 L754.36 469.05 L754.50 468.72 L754.64 468.41 L754.77 468.10 L754.91 467.81 L755.05 467.53 L755.18 467.26 L755.32 467.00 L755.45 466.75 L755.59 466.50 L755.73 466.27 L755.86 466.05 L756.13 465.64 L756.41 465.26 L756.68 464.91 L756.95 464.60 L757.22 464.32 L757.50 464.07 L757.77 463.85 L758.04 463.66 L758.31 463.50 L758.59 463.36 L758.86 463.25 L759.13 463.17 L759.54 463.09 L759.95 463.06 L760.36 463.09 L760.76 463.17 L761.04 463.25 L761.31 463.35 L761.58 463.48 L761.85 463.62 L762.13 463.79 L762.40 463.97 L762.67 464.18 L762.94 464.41 L763.22 464.66 L763.49 464.93 L763.76 465.22 L764.03 465.53 L764.31 465.86 L764.58 466.21 L764.85 466.58 L765.12 466.97 L765.39 467.38 L765.53 467.60 L765.67 467.81 L765.80 468.04 L765.94 468.27 L766.08 468.50 L766.21 468.74 L766.35 468.99 L766.48 469.24 L766.62 469.50 L766.76 469.76 L766.89 470.03 L767.03 470.30 L767.16 470.58 L767.30 470.86 L767.44 471.15 L767.57 471.45 L767.71 471.75 L767.85 472.06 L767.98 472.37 L768.12 472.69 L768.25 473.01 L768.39 473.34 L768.53 473.68 L768.66 474.02 L768.80 474.37 L768.94 474.73 L769.07 475.09 L769.21 475.46 L769.34 475.83 L769.48 476.22 L769.62 476.61 L769.75 477.00 L769.89 477.40 L770.02 477.81 L770.16 478.23 L770.30 478.66 L770.43 479.09 L770.57 479.53 L770.71 479.97 L770.84 480.43 L770.98 480.89 L771.11 481.36 L771.25 481.84 L771.39 482.33 L771.52 482.83 L771.66 483.33 L771.79 483.85 L771.93 484.37 L772.07 484.90 L772.20 485.45 L772.34 486.00 L772.48 486.56 L772.61 487.14 L772.75 487.72 L772.88 488.31 L773.02 488.92 L773.16 489.54 L773.29 490.16 L773.43 490.80 L773.56 491.46 L773.70 492.12 L773.84 492.80 L773.97 493.49 L774.11 494.20 L774.25 494.92 L774.38 495.66 L774.52 496.41 L774.65 497.17 L774.79 497.96 L774.93 498.76 L775.06 499.58 L775.20 500.41 L775.34 501.27 L775.47 502.14 L775.61 503.04 L775.74 503.95 L775.88 504.89 L776.02 505.85 L776.15 506.84 L776.29 507.85 L776.42 508.89 L776.56 509.95 L776.70 511.05 L776.83 512.17 L776.97 513.33 L777.11 514.52 L777.24 515.75 L777.38 517.02 L777.51 518.33 L777.65 519.68 L777.79 521.07 L777.92 522.52 L778.06 524.01 L778.19 525.56 L778.33 527.18 L778.47 528.85 L778.60 530.60 L778.74 532.42 L778.88 534.32 L779.01 536.32 L779.15 538.41 L779.28 540.61 L779.42 542.94 L779.56 545.40 L779.69 548.00 L779.83 550.78 L779.96 553.76 L780.10 556.95 L780.24 560.41 L780.37 564.17 L780.51 568.29 L780.65 572.86 L780.78 577.98 L780.92 583.79 L781.05 590.53 L781.19 598.54 L781.33 608.41 L781.46 610.17 L781.87 610.17 L782.28 610.17 L782.42 604.79 L782.55 595.74 L782.69 588.31 L782.82 582.00 L782.96 576.52 L783.10 571.67 L783.23 567.34 L783.37 563.41 L783.51 559.82 L783.64 556.53 L783.78 553.47 L783.91 550.63 L784.05 547.98 L784.19 545.48 L784.32 543.13 L784.46 540.91 L784.59 538.81 L784.73 536.81 L784.87 534.90 L785.00 533.09 L785.14 531.35 L785.28 529.69 L785.41 528.09 L785.55 526.56 L785.68 525.08 L785.82 523.66 L785.96 522.29 L786.09 520.97 L786.23 519.69 L786.37 518.45 L786.50 517.25 L786.64 516.09 L786.77 514.97 L786.91 513.88 L787.05 512.81 L787.18 511.78 L787.32 510.78 L787.45 509.81 L787.59 508.86 L787.73 507.93 L787.86 507.03 L788.00 506.15 L788.14 505.29 L788.27 504.46 L788.41 503.64 L788.54 502.84 L788.68 502.06 L788.82 501.30 L788.95 500.55 L789.09 499.83 L789.22 499.11 L789.36 498.41 L789.50 497.73 L789.63 497.06 L789.77 496.41 L789.91 495.77 L790.04 495.14 L790.18 494.52 L790.31 493.92 L790.45 493.33 L790.59 492.75 L790.72 492.18 L790.86 491.62 L790.99 491.07 L791.13 490.53 L791.27 490.00 L791.40 489.48 L791.54 488.97 L791.68 488.47 L791.81 487.98 L791.95 487.50 L792.08 487.03 L792.22 486.56 L792.36 486.10 L792.49 485.65 L792.63 485.21 L792.77 484.78 L792.90 484.35 L793.04 483.93 L793.17 483.52 L793.31 483.11 L793.45 482.71 L793.58 482.32 L793.72 481.93 L793.85 481.55 L793.99 481.18 L794.13 480.81 L794.26 480.45 L794.40 480.10 L794.54 479.75 L794.67 479.40 L794.81 479.07 L794.94 478.73 L795.08 478.41 L795.22 478.08 L795.35 477.77 L795.49 477.46 L795.62 477.15 L795.76 476.85 L795.90 476.55 L796.03 476.26 L796.17 475.97 L796.31 475.69 L796.44 475.41 L796.58 475.14 L796.71 474.87 L796.85 474.60 L796.99 474.34 L797.12 474.09 L797.26 473.83 L797.39 473.59 L797.53 473.34 L797.67 473.10 L797.80 472.87 L797.94 472.64 L798.08 472.41 L798.21 472.18 L798.35 471.96 L798.48 471.75 L798.76 471.32 L799.03 470.92 L799.30 470.52 L799.57 470.14 L799.85 469.77 L800.12 469.42 L800.39 469.08 L800.66 468.75 L800.94 468.43 L801.21 468.13 L801.48 467.84 L801.75 467.56 L802.02 467.29 L802.30 467.03 L802.57 466.78 L802.84 466.55 L803.11 466.32 L803.39 466.10 L803.66 465.90 L803.93 465.71 L804.20 465.52 L804.48 465.35 L804.75 465.18 L805.02 465.03 L805.29 464.89 L805.57 464.75 L805.84 464.63 L806.11 464.51 L806.38 464.40 L806.65 464.30 L806.93 464.22 L807.20 464.14 L807.61 464.03 L808.02 463.95 L808.42 463.89 L808.83 463.84 L809.24 463.82 L809.65 463.82 L810.06 463.83 L810.47 463.86 L810.88 463.92 L811.28 463.99 L811.69 464.08 L812.10 464.19 L812.37 464.27 L812.65 464.36 L812.92 464.46 L813.19 464.57 L813.46 464.69 L813.74 464.81 L814.01 464.95 L814.28 465.09 L814.55 465.24 L814.82 465.40 L815.10 465.57 L815.37 465.75 L815.64 465.93 L815.91 466.13 L816.19 466.33 L816.46 466.54 L816.73 466.76 L817.00 466.99 L817.28 467.23 L817.55 467.48 L817.82 467.73 L818.09 468.00 L818.37 468.28 L818.64 468.56 L818.91 468.86 L819.18 469.16 L819.45 469.47 L819.73 469.80 L820.00 470.13 L820.27 470.48 L820.54 470.83 L820.82 471.20 L821.09 471.57 L821.36 471.96 L821.63 472.36 L821.91 472.77 L822.18 473.19 L822.31 473.40 L822.45 473.62 L822.59 473.84 L822.72 474.06 L822.86 474.29 L823.00 474.52 L823.13 474.75 L823.27 474.99 L823.40 475.22 L823.54 475.47 L823.68 475.71 L823.81 475.96 L823.95 476.21 L824.08 476.47 L824.22 476.72 L824.36 476.98 L824.49 477.25 L824.63 477.52 L824.77 477.79 L824.90 478.06 L825.04 478.34 L825.17 478.63 L825.31 478.91 L825.45 479.20 L825.58 479.50 L825.72 479.79 L825.85 480.09 L825.99 480.40 L826.13 480.71 L826.26 481.02 L826.40 481.34 L826.54 481.66 L826.67 481.99 L826.81 482.32 L826.94 482.65 L827.08 482.99 L827.22 483.33 L827.35 483.68 L827.49 484.03 L827.63 484.39 L827.76 484.75 L827.90 485.11 L828.03 485.48 L828.17 485.86 L828.31 486.24 L828.44 486.63 L828.58 487.02 L828.71 487.42 L828.85 487.82 L828.99 488.23 L829.12 488.64 L829.26 489.06 L829.40 489.48 L829.53 489.92 L829.67 490.35 L829.80 490.80 L829.94 491.25 L830.08 491.70 L830.21 492.16 L830.35 492.63 L830.48 493.11 L830.62 493.59 L830.76 494.08 L830.89 494.58 L831.03 495.09 L831.17 495.60 L831.30 496.12 L831.44 496.65 L831.57 497.19 L831.71 497.73 L831.85 498.29 L831.98 498.85 L832.12 499.43 L832.26 500.01 L832.39 500.60 L832.53 501.20 L832.66 501.81 L832.80 502.44 L832.94 503.07 L833.07 503.72 L833.21 504.37 L833.34 505.04 L833.48 505.72 L833.62 506.41 L833.75 507.12 L833.89 507.84 L834.03 508.57 L834.16 509.32 L834.30 510.08 L834.43 510.86 L834.57 511.65 L834.71 512.47 L834.84 513.29 L834.98 514.14 L835.11 515.00 L835.25 515.89 L835.39 516.79 L835.52 517.72 L835.66 518.67 L835.80 519.64 L835.93 520.63 L836.07 521.65 L836.20 522.70 L836.34 523.77 L836.48 524.88 L836.61 526.01 L836.75 527.18 L836.88 528.38 L837.02 529.62 L837.16 530.90 L837.29 532.21 L837.43 533.57 L837.57 534.98 L837.70 536.44 L837.84 537.95 L837.97 539.52 L838.11 541.14 L838.25 542.84 L838.38 544.61 L838.52 546.45 L838.66 548.38 L838.79 550.40 L838.93 552.53 L839.06 554.76 L839.20 557.13 L839.34 559.63 L839.47 562.29 L839.61 565.13 L839.74 568.18 L839.88 571.46 L840.02 575.02 L840.15 578.90 L840.29 583.18 L840.43 587.94 L840.56 593.30 L840.70 599.45 L840.83 606.63 L840.97 610.17 L841.38 610.17 L841.79 610.17 L842.20 610.17 L842.33 605.38 L842.47 598.43 L842.60 592.46 L842.74 587.23 L842.88 582.59 L843.01 578.40 L843.15 574.60 L843.28 571.11 L843.42 567.89 L843.56 564.91 L843.69 562.12 L843.83 559.51 L843.97 557.05 L844.10 554.73 L844.24 552.53 L844.37 550.44 L844.51 548.46 L844.65 546.57 L844.78 544.76 L844.92 543.02 L845.06 541.36 L845.19 539.76 L845.33 538.22 L845.46 536.74 L845.60 535.31 L845.74 533.94 L845.87 532.60 L846.01 531.31 L846.14 530.06 L846.28 528.85 L846.42 527.67 L846.55 526.53 L846.69 525.42 L846.83 524.34 L846.96 523.29 L847.10 522.27 L847.23 521.27 L847.37 520.30 L847.51 519.35 L847.64 518.43 L847.78 517.53 L847.91 516.64 L848.05 515.78 L848.19 514.94 L848.32 514.12 L848.46 513.31 L848.60 512.52 L848.73 511.75 L848.87 510.99 L849.00 510.25 L849.14 509.53 L849.28 508.81 L849.41 508.12 L849.55 507.43 L849.69 506.76 L849.82 506.10 L849.96 505.45 L850.09 504.82 L850.23 504.19 L850.37 503.58 L850.50 502.98 L850.64 502.38 L850.77 501.80 L850.91 501.23 L851.05 500.67 L851.18 500.12 L851.32 499.57 L851.46 499.04 L851.59 498.51 L851.73 497.99 L851.86 497.48 L852.00 496.98 L852.14 496.49 L852.27 496.00 L852.41 495.52 L852.54 495.05 L852.68 494.59 L852.82 494.13 L852.95 493.68 L853.09 493.23 L853.23 492.80 L853.36 492.36 L853.50 491.94 L853.63 491.52 L853.77 491.11 L853.91 490.70 L854.04 490.30 L854.18 489.90 L854.31 489.51 L854.45 489.13 L854.59 488.75 L854.72 488.38 L854.86 488.01 L855.00 487.64 L855.13 487.29 L855.27 486.93 L855.40 486.58 L855.54 486.24 L855.68 485.90 L855.81 485.56 L855.95 485.23 L856.09 484.91 L856.22 484.59 L856.36 484.27 L856.49 483.96 L856.63 483.65 L856.77 483.34 L856.90 483.04 L857.04 482.74 L857.17 482.45 L857.31 482.16 L857.45 481.88 L857.58 481.59 L857.72 481.32 L857.86 481.04 L857.99 480.77 L858.13 480.50 L858.26 480.24 L858.40 479.98 L858.54 479.72 L858.67 479.47 L858.81 479.22 L858.94 478.97 L859.08 478.73 L859.22 478.49 L859.35 478.25 L859.49 478.02 L859.63 477.79 L859.76 477.56 L859.90 477.34 L860.03 477.11 L860.17 476.90 L860.31 476.68 L860.58 476.26 L860.85 475.85 L861.12 475.44 L861.40 475.06 L861.67 474.68 L861.94 474.31 L862.21 473.95 L862.49 473.60 L862.76 473.27 L863.03 472.94 L863.30 472.62 L863.57 472.31 L863.85 472.01 L864.12 471.72 L864.39 471.44 L864.66 471.17 L864.94 470.91 L865.21 470.65 L865.48 470.41 L865.75 470.17 L866.03 469.94 L866.30 469.72 L866.57 469.51 L866.84 469.31 L867.12 469.11 L867.39 468.92 L867.66 468.74 L867.93 468.57 L868.20 468.41 L868.48 468.25 L868.75 468.10 L869.02 467.96 L869.29 467.83 L869.57 467.70 L869.84 467.58 L870.11 467.47 L870.38 467.37 L870.66 467.27 L870.93 467.18 L871.20 467.10 L871.61 466.99 L872.02 466.90 L872.43 466.82 L872.83 466.76 L873.24 466.71 L873.65 466.68 L874.06 466.67 L874.20 466.67" stroke="#1f77c4" stroke-width="1.3" stroke-dasharray="8.5 3.5 1.2 3.5"/>
<path d="M57.30 74.09 L57.71 74.09 L58.12 74.09 L58.53 74.09 L58.93 74.09 L59.34 74.09 L59.75 74.09 L60.16 74.09 L60.57 74.09 L60.98 74.09 L61.39 74.09 L61.79 74.09 L62.20 74.09 L62.61 74.09 L63.02 74.09 L63.43 74.10 L63.84 74.10 L64.24 74.10 L64.65 74.10 L65.06 74.10 L65.47 74.10 L65.88 74.10 L66.29 74.10 L66.70 74.10 L67.10 74.10 L67.51 74.10 L67.92 74.10 L68.33 74.10 L68.74 74.10 L69.15 74.10 L69.56 74.10 L69.96 74.10 L70.37 74.10 L70.78 74.10 L71.19 74.10 L71.60 74.10 L72.01 74.10 L72.42 74.10 L72.82 74.10 L73.23 74.10 L73.64 74.10 L74.05 74.10 L74.46 74.10 L74.87 74.10 L75.27 74.10 L75.68 74.10 L76.09 74.10 L76.50 74.10 L76.91 74.10 L77.32 74.10 L77.73 74.10 L78.13 74.10 L78.54 74.10 L78.95 74.10 L79.36 74.10 L79.77 74.10 L80.18 74.10 L80.59 74.10 L80.99 74.10 L81.40 74.10 L81.81 74.10 L82.22 74.10 L82.63 74.10 L83.04 74.10 L83.45 74.10 L83.85 74.10 L84.26 74.10 L84.67 74.10 L85.08 74.10 L85.49 74.10 L85.90 74.10 L86.30 74.10 L86.71 74.10 L87.12 74.10 L87.53 74.10 L87.94 74.10 L88.35 74.10 L88.76 74.10 L89.16 74.10 L89.57 74.10 L89.98 74.10 L90.39 74.10 L90.80 74.10 L91.21 74.10 L91.62 74.10 L92.02 74.10 L92.43 74.10 L92.84 74.10 L93.25 74.10 L93.66 74.10 L94.07 74.10 L94.47 74.10 L94.88 74.10 L95.29 74.10 L95.70 74.10 L96.11 74.10 L96.52 74.10 L96.93 74.10 L97.33 74.10 L97.74 74.10 L98.15 74.10 L98.56 74.10 L98.97 74.10 L99.38 74.10 L99.79 74.10 L100.19 74.10 L100.60 74.10 L101.01 74.10 L101.42 74.10 L101.83 74.10 L102.24 74.10 L102.65 74.10 L103.05 74.10 L103.46 74.10 L103.87 74.10 L104.28 74.10 L104.69 74.10 L105.10 74.10 L105.50 74.10 L105.91 74.10 L106.32 74.10 L106.73 74.10 L107.14 74.10 L107.55 74.10 L107.96 74.10 L108.36 74.10 L108.77 74.10 L109.18 74.10 L109.59 74.10 L110.00 74.10 L110.41 74.10 L110.82 74.10 L111.22 74.10 L111.63 74.10 L112.04 74.10 L112.45 74.10 L112.86 74.10 L113.27 74.10 L113.68 74.10 L114.08 74.10 L114.49 74.10 L114.90 74.10 L115.31 74.10 L115.72 74.10 L116.13 74.10 L116.53 74.10 L116.94 74.10 L117.35 74.10 L117.76 74.10 L118.17 74.10 L118.58 74.10 L118.99 74.10 L119.39 74.10 L119.80 74.10 L120.21 74.10 L120.62 74.10 L121.03 74.10 L121.44 74.10 L121.85 74.10 L122.25 74.10 L122.66 74.10 L123.07 74.10 L123.48 74.10 L123.89 74.10 L124.30 74.10 L124.71 74.10 L125.11 74.10 L125.52 74.10 L125.93 74.10 L126.34 74.10 L126.75 74.10 L127.16 74.10 L127.56 74.10 L127.97 74.10 L128.38 74.10 L128.79 74.10 L129.20 74.10 L129.61 74.10 L130.02 74.10 L130.42 74.10 L130.83 74.10 L131.24 74.10 L131.65 74.10 L132.06 74.10 L132.47 74.10 L132.88 74.10 L133.28 74.10 L133.69 74.10 L134.10 74.10 L134.51 74.10 L134.92 74.10 L135.33 74.10 L135.74 74.10 L136.14 74.10 L136.55 74.10 L136.96 74.10 L137.37 74.10 L137.78 74.10 L138.19 74.10 L138.59 74.10 L139.00 74.10 L139.41 74.10 L139.82 74.10 L140.23 74.10 L140.64 74.10 L141.05 74.10 L141.45 74.10 L141.86 74.10 L142.27 74.10 L142.68 74.10 L143.09 74.10 L143.50 74.10 L143.91 74.10 L144.31 74.10 L144.72 74.10 L145.13 74.10 L145.54 74.10 L145.95 74.10 L146.36 74.10 L146.77 74.10 L147.17 74.10 L147.58 74.10 L147.99 74.10 L148.40 74.10 L148.81 74.10 L149.22 74.10 L149.62 74.10 L150.03 74.10 L150.44 74.10 L150.85 74.10 L151.26 74.10 L151.67 74.10 L152.08 74.10 L152.48 74.10 L152.89 74.10 L153.30 74.10 L153.71 74.10 L154.12 74.10 L154.53 74.10 L154.94 74.10 L155.34 74.10 L155.75 74.10 L156.16 74.10 L156.57 74.10 L156.98 74.10 L157.39 74.10 L157.79 74.10 L158.20 74.10 L158.61 74.10 L159.02 74.10 L159.43 74.10 L159.84 74.10 L160.25 74.10 L160.65 74.10 L161.06 74.10 L161.47 74.10 L161.88 74.10 L162.29 74.10 L162.70 74.10 L163.11 74.10 L163.51 74.10 L163.92 74.10 L164.33 74.10 L164.74 74.10 L165.15 74.10 L165.56 74.10 L165.97 74.10 L166.37 74.10 L166.78 74.10 L167.19 74.10 L167.60 74.10 L168.01 74.10 L168.42 74.10 L168.82 74.10 L169.23 74.10 L169.64 74.10 L170.05 74.10 L170.46 74.10 L170.87 74.10 L171.28 74.10 L171.68 74.10 L172.09 74.10 L172.50 74.10 L172.91 74.10 L173.32 74.10 L173.73 74.10 L174.14 74.10 L174.54 74.10 L174.95 74.10 L175.36 74.10 L175.77 74.10 L176.18 74.10 L176.59 74.10 L177.00 74.10 L177.40 74.10 L177.81 74.10 L178.22 74.10 L178.63 74.10 L179.04 74.10 L179.45 74.10 L179.85 74.10 L180.26 74.10 L180.67 74.10 L181.08 74.10 L181.49 74.10 L181.90 74.10 L182.31 74.10 L182.71 74.10 L183.12 74.10 L183.53 74.10 L183.94 74.10 L184.35 74.10 L184.76 74.10 L185.17 74.10 L185.57 74.10 L185.98 74.10 L186.39 74.10 L186.80 74.10 L187.21 74.10 L187.62 74.10 L188.03 74.10 L188.43 74.10 L188.84 74.10 L189.25 74.10 L189.66 74.11 L190.07 74.11 L190.48 74.11 L190.88 74.11 L191.29 74.11 L191.70 74.11 L192.11 74.11 L192.52 74.11 L192.93 74.11 L193.34 74.11 L193.74 74.11 L194.15 74.11 L194.56 74.11 L194.97 74.11 L195.38 74.11 L195.79 74.11 L196.20 74.11 L196.60 74.11 L197.01 74.12 L197.42 74.12 L197.83 74.12 L198.24 74.12 L198.65 74.12 L199.06 74.12 L199.46 74.12 L199.87 74.12 L200.28 74.12 L200.69 74.12 L201.10 74.12 L201.51 74.12 L201.91 74.13 L202.32 74.13 L202.73 74.13 L203.14 74.13 L203.55 74.13 L203.96 74.13 L204.37 74.13 L204.77 74.13 L205.18 74.13 L205.59 74.14 L206.00 74.14 L206.41 74.14 L206.82 74.14 L207.23 74.14 L207.63 74.14 L208.04 74.14 L208.45 74.14 L208.86 74.15 L209.27 74.15 L209.68 74.15 L210.09 74.15 L210.49 74.15 L210.90 74.15 L211.31 74.15 L211.72 74.16 L212.13 74.16 L212.54 74.16 L212.94 74.16 L213.35 74.16 L213.76 74.16 L214.17 74.17 L214.58 74.17 L214.99 74.17 L215.40 74.17 L215.80 74.17 L216.21 74.18 L216.62 74.18 L217.03 74.18 L217.44 74.18 L217.85 74.18 L218.26 74.19 L218.66 74.19 L219.07 74.19 L219.48 74.19 L219.89 74.20 L220.30 74.20 L220.71 74.20 L221.11 74.20 L221.52 74.20 L221.93 74.21 L222.34 74.21 L222.75 74.21 L223.16 74.22 L223.57 74.22 L223.97 74.22 L224.38 74.22 L224.79 74.23 L225.20 74.23 L225.61 74.23 L226.02 74.23 L226.43 74.24 L226.83 74.24 L227.24 74.24 L227.65 74.25 L228.06 74.25 L228.47 74.25 L228.88 74.26 L229.29 74.26 L229.69 74.26 L230.10 74.27 L230.51 74.27 L230.92 74.27 L231.33 74.28 L231.74 74.28 L232.14 74.28 L232.55 74.29 L232.96 74.29 L233.37 74.30 L233.78 74.30 L234.19 74.30 L234.60 74.31 L235.00 74.31 L235.41 74.32 L235.82 74.32 L236.23 74.32 L236.64 74.33 L237.05 74.33 L237.46 74.34 L237.86 74.34 L238.27 74.35 L238.68 74.35 L239.09 74.35 L239.50 74.36 L239.91 74.36 L240.32 74.37 L240.72 74.37 L241.13 74.38 L241.54 74.38 L241.95 74.39 L242.36 74.39 L242.77 74.40 L243.17 74.40 L243.58 74.41 L243.99 74.41 L244.40 74.42 L244.81 74.43 L245.22 74.43 L245.63 74.44 L246.03 74.44 L246.44 74.45 L246.85 74.45 L247.26 74.46 L247.67 74.47 L248.08 74.47 L248.49 74.48 L248.89 74.48 L249.30 74.49 L249.71 74.50 L250.12 74.50 L250.53 74.51 L250.94 74.52 L251.35 74.52 L251.75 74.53 L252.16 74.54 L252.57 74.54 L252.98 74.55 L253.39 74.56 L253.80 74.56 L254.20 74.57 L254.61 74.58 L255.02 74.59 L255.43 74.59 L255.84 74.60 L256.25 74.61 L256.66 74.62 L257.06 74.62 L257.47 74.63 L257.88 74.64 L258.29 74.65 L258.70 74.66 L259.11 74.66 L259.52 74.67 L259.92 74.68 L260.33 74.69 L260.74 74.70 L261.15 74.71 L261.56 74.71 L261.97 74.72 L262.38 74.73 L262.78 74.74 L263.19 74.75 L263.60 74.76 L264.01 74.77 L264.42 74.78 L264.83 74.79 L265.23 74.80 L265.64 74.81 L266.05 74.82 L266.46 74.83 L266.87 74.84 L267.28 74.85 L267.69 74.86 L268.09 74.87 L268.50 74.88 L268.91 74.89 L269.32 74.90 L269.73 74.91 L270.14 74.92 L270.55 74.93 L270.95 74.94 L271.36 74.95 L271.77 74.96 L272.18 74.97 L272.59 74.98 L273.00 75.00 L273.41 75.01 L273.81 75.02 L274.22 75.03 L274.63 75.04 L275.04 75.05 L275.45 75.07 L275.86 75.08 L276.26 75.09 L276.67 75.10 L277.08 75.12 L277.49 75.13 L277.90 75.14 L278.31 75.15 L278.72 75.17 L279.12 75.18 L279.53 75.19 L279.94 75.21 L280.35 75.22 L280.76 75.23 L281.17 75.25 L281.58 75.26 L281.98 75.27 L282.39 75.29 L282.80 75.30 L283.21 75.32 L283.62 75.33 L284.03 75.35 L284.43 75.36 L284.84 75.37 L285.25 75.39 L285.66 75.40 L286.07 75.42 L286.48 75.44 L286.89 75.45 L287.29 75.47 L287.70 75.48 L288.11 75.50 L288.52 75.51 L288.93 75.53 L289.34 75.55 L289.75 75.56 L290.15 75.58 L290.56 75.59 L290.97 75.61 L291.38 75.63 L291.79 75.64 L292.20 75.66 L292.61 75.68 L293.01 75.70 L293.42 75.71 L293.83 75.73 L294.24 75.75 L294.65 75.77 L295.06 75.79 L295.46 75.80 L295.87 75.82 L296.28 75.84 L296.69 75.86 L297.10 75.88 L297.51 75.90 L297.92 75.92 L298.32 75.93 L298.73 75.95 L299.14 75.97 L299.55 75.99 L299.96 76.01 L300.37 76.03 L300.78 76.05 L301.18 76.07 L301.59 76.09 L302.00 76.11 L302.41 76.13 L302.82 76.15 L303.23 76.18 L303.64 76.20 L304.04 76.22 L304.45 76.24 L304.86 76.26 L305.27 76.28 L305.68 76.30 L306.09 76.33 L306.49 76.35 L306.90 76.37 L307.31 76.39 L307.72 76.42 L308.13 76.44 L308.54 76.46 L308.95 76.49 L309.35 76.51 L309.76 76.53 L310.17 76.56 L310.58 76.58 L310.99 76.60 L311.40 76.63 L311.81 76.65 L312.21 76.68 L312.62 76.70 L313.03 76.73 L313.44 76.75 L313.85 76.78 L314.26 76.80 L314.67 76.83 L315.07 76.85 L315.48 76.88 L315.89 76.90 L316.30 76.93 L316.71 76.96 L317.12 76.98 L317.52 77.01 L317.93 77.04 L318.34 77.06 L318.75 77.09 L319.16 77.12 L319.57 77.15 L319.98 77.17 L320.38 77.20 L320.79 77.23 L321.20 77.26 L321.61 77.29 L322.02 77.31 L322.43 77.34 L322.84 77.37 L323.24 77.40 L323.65 77.43 L324.06 77.46 L324.47 77.49 L324.88 77.52 L325.29 77.55 L325.70 77.58 L326.10 77.61 L326.51 77.64 L326.92 77.67 L327.33 77.70 L327.74 77.73 L328.15 77.77 L328.55 77.80 L328.96 77.83 L329.37 77.86 L329.78 77.89 L330.19 77.93 L330.60 77.96 L331.01 77.99 L331.41 78.02 L331.82 78.06 L332.23 78.09 L332.64 78.12 L333.05 78.16 L333.46 78.19 L333.87 78.23 L334.27 78.26 L334.68 78.30 L335.09 78.33 L335.50 78.37 L335.91 78.40 L336.32 78.44 L336.73 78.47 L337.13 78.51 L337.54 78.54 L337.95 78.58 L338.36 78.62 L338.77 78.65 L339.18 78.69 L339.58 78.73 L339.99 78.76 L340.40 78.80 L340.81 78.84 L341.22 78.88 L341.63 78.92 L342.04 78.95 L342.44 78.99 L342.85 79.03 L343.26 79.07 L343.67 79.11 L344.08 79.15 L344.49 79.19 L344.90 79.23 L345.30 79.27 L345.71 79.31 L346.12 79.35 L346.53 79.39 L346.94 79.43 L347.35 79.47 L347.75 79.51 L348.16 79.55 L348.57 79.60 L348.98 79.64 L349.39 79.68 L349.80 79.72 L350.21 79.77 L350.61 79.81 L351.02 79.85 L351.43 79.90 L351.84 79.94 L352.25 79.98 L352.66 80.03 L353.07 80.07 L353.47 80.12 L353.88 80.16 L354.29 80.21 L354.70 80.25 L355.11 80.30 L355.52 80.34 L355.93 80.39 L356.33 80.44 L356.74 80.48 L357.15 80.53 L357.56 80.58 L357.97 80.62 L358.38 80.67 L358.78 80.72 L359.19 80.77 L359.60 80.81 L360.01 80.86 L360.42 80.91 L360.83 80.96 L361.24 81.01 L361.64 81.06 L362.05 81.11 L362.46 81.16 L362.87 81.21 L363.28 81.26 L363.69 81.31 L364.10 81.36 L364.50 81.41 L364.91 81.46 L365.32 81.51 L365.73 81.57 L366.14 81.62 L366.55 81.67 L366.96 81.72 L367.36 81.77 L367.77 81.83 L368.18 81.88 L368.59 81.93 L369.00 81.99 L369.41 82.04 L369.81 82.10 L370.22 82.15 L370.63 82.21 L371.04 82.26 L371.45 82.32 L371.86 82.37 L372.27 82.43 L372.67 82.49 L373.08 82.54 L373.49 82.60 L373.90 82.66 L374.31 82.71 L374.72 82.77 L375.13 82.83 L375.53 82.89 L375.94 82.94 L376.35 83.00 L376.76 83.06 L377.17 83.12 L377.58 83.18 L377.99 83.24 L378.39 83.30 L378.80 83.36 L379.21 83.42 L379.62 83.48 L380.03 83.54 L380.44 83.60 L380.84 83.67 L381.25 83.73 L381.66 83.79 L382.07 83.85 L382.48 83.91 L382.89 83.98 L383.30 84.04 L383.70 84.10 L384.11 84.17 L384.52 84.23 L384.93 84.30 L385.34 84.36 L385.75 84.43 L386.16 84.49 L386.56 84.56 L386.97 84.62 L387.38 84.69 L387.79 84.76 L388.20 84.82 L388.61 84.89 L389.02 84.96 L389.42 85.02 L389.83 85.09 L390.24 85.16 L390.65 85.23 L391.06 85.30 L391.47 85.37 L391.87 85.43 L392.28 85.50 L392.69 85.57 L393.10 85.64 L393.51 85.71 L393.92 85.79 L394.33 85.86 L394.73 85.93 L395.14 86.00 L395.55 86.07 L395.96 86.14 L396.37 86.22 L396.78 86.29 L397.19 86.36 L397.59 86.44 L398.00 86.51 L398.41 86.58 L398.82 86.66 L399.23 86.73 L399.64 86.81 L400.04 86.88 L400.45 86.96 L400.86 87.03 L401.27 87.11 L401.68 87.19 L402.09 87.26 L402.50 87.34 L402.90 87.42 L403.31 87.50 L403.72 87.57 L404.13 87.65 L404.54 87.73 L404.95 87.81 L405.36 87.89 L405.76 87.97 L406.17 88.05 L406.58 88.13 L406.99 88.21 L407.40 88.29 L407.81 88.37 L408.22 88.45 L408.62 88.53 L409.03 88.62 L409.44 88.70 L409.85 88.78 L410.26 88.86 L410.67 88.95 L411.07 89.03 L411.48 89.12 L411.89 89.20 L412.30 89.29 L412.71 89.37 L413.12 89.46 L413.53 89.54 L413.93 89.63 L414.34 89.71 L414.75 89.80 L415.16 89.89 L415.57 89.97 L415.98 90.06 L416.39 90.15 L416.79 90.24 L417.20 90.33 L417.61 90.42 L418.02 90.51 L418.43 90.60 L418.84 90.69 L419.25 90.78 L419.65 90.87 L420.06 90.96 L420.47 91.05 L420.88 91.14 L421.29 91.23 L421.70 91.33 L422.10 91.42 L422.51 91.51 L422.92 91.60 L423.33 91.70 L423.74 91.79 L424.15 91.89 L424.56 91.98 L424.96 92.08 L425.37 92.17 L425.78 92.27 L426.19 92.36 L426.60 92.46 L427.01 92.56 L427.42 92.65 L427.82 92.75 L428.23 92.85 L428.64 92.95 L429.05 93.05 L429.46 93.15 L429.87 93.25 L430.28 93.35 L430.68 93.45 L431.09 93.55 L431.50 93.65 L431.91 93.75 L432.32 93.85 L432.73 93.95 L433.13 94.05 L433.54 94.16 L433.95 94.26 L434.36 94.36 L434.77 94.47 L435.18 94.57 L435.59 94.67 L435.99 94.78 L436.40 94.88 L436.81 94.99 L437.22 95.10 L437.63 95.20 L438.04 95.31 L438.45 95.42 L438.85 95.52 L439.26 95.63 L439.67 95.74 L440.08 95.85 L440.49 95.96 L440.90 96.06 L441.31 96.17 L441.71 96.28 L442.12 96.39 L442.53 96.51 L442.94 96.62 L443.35 96.73 L443.76 96.84 L444.16 96.95 L444.57 97.06 L444.98 97.18 L445.39 97.29 L445.80 97.40 L446.21 97.52 L446.62 97.63 L447.02 97.75 L447.43 97.86 L447.84 97.98 L448.25 98.10 L448.66 98.21 L448.93 98.29 L449.20 98.37 L449.48 98.45 L449.75 98.52 L450.02 98.60 L450.29 98.68 L450.56 98.76 L450.84 98.84 L451.11 98.92 L451.38 99.00 L451.65 99.08 L451.93 99.16 L452.20 99.24 L452.47 99.32 L452.74 99.40 L453.02 99.48 L453.29 99.56 L453.56 99.64 L453.83 99.72 L454.11 99.80 L454.38 99.88 L454.65 99.96 L454.92 100.05 L455.19 100.13 L455.47 100.21 L455.74 100.29 L456.01 100.37 L456.28 100.46 L456.56 100.54 L456.83 100.62 L457.10 100.71 L457.37 100.79 L457.65 100.87 L457.92 100.96 L458.19 101.04 L458.46 101.12 L458.74 101.21 L459.01 101.29 L459.28 101.38 L459.55 101.46 L459.82 101.55 L460.10 101.63 L460.37 101.72 L460.64 101.80 L460.91 101.89 L461.19 101.97 L461.46 102.06 L461.73 102.15 L462.00 102.23 L462.28 102.32 L462.55 102.41 L462.82 102.49 L463.09 102.58 L463.36 102.67 L463.64 102.76 L463.91 102.84 L464.18 102.93 L464.45 103.02 L464.73 103.11 L465.00 103.20 L465.27 103.28 L465.54 103.37 L465.82 103.46 L466.09 103.55 L466.36 103.64 L466.63 103.73 L466.91 103.82 L467.18 103.91 L467.45 104.00 L467.72 104.09 L467.99 104.18 L468.27 104.27 L468.54 104.36 L468.81 104.45 L469.08 104.55 L469.36 104.64 L469.63 104.73 L469.90 104.82 L470.17 104.91 L470.45 105.00 L470.72 105.10 L470.99 105.19 L471.26 105.28 L471.54 105.38 L471.81 105.47 L472.08 105.56 L472.35 105.66 L472.62 105.75 L472.90 105.84 L473.17 105.94 L473.44 106.03 L473.71 106.13 L473.99 106.22 L474.26 106.32 L474.53 106.41 L474.80 106.51 L475.08 106.60 L475.35 106.70 L475.62 106.79 L475.89 106.89 L476.17 106.99 L476.44 107.08 L476.71 107.18 L476.98 107.28 L477.25 107.37 L477.53 107.47 L477.80 107.57 L478.07 107.67 L478.34 107.76 L478.62 107.86 L478.89 107.96 L479.16 108.06 L479.43 108.16 L479.71 108.26 L479.98 108.35 L480.25 108.45 L480.52 108.55 L480.80 108.65 L481.07 108.75 L481.34 108.85 L481.61 108.95 L481.88 109.05 L482.16 109.15 L482.43 109.26 L482.70 109.36 L482.97 109.46 L483.25 109.56 L483.52 109.66 L483.79 109.76 L484.06 109.87 L484.34 109.97 L484.61 110.07 L484.88 110.17 L485.15 110.28 L485.42 110.38 L485.70 110.48 L485.97 110.59 L486.24 110.69 L486.51 110.79 L486.79 110.90 L487.06 111.00 L487.33 111.11 L487.60 111.21 L487.88 111.32 L488.15 111.42 L488.42 111.53 L488.69 111.63 L488.97 111.74 L489.24 111.84 L489.51 111.95 L489.78 112.06 L490.05 112.16 L490.33 112.27 L490.60 112.38 L490.87 112.49 L491.14 112.59 L491.42 112.70 L491.69 112.81 L491.96 112.92 L492.23 113.03 L492.51 113.13 L492.78 113.24 L493.05 113.35 L493.32 113.46 L493.60 113.57 L493.87 113.68 L494.14 113.79 L494.41 113.90 L494.68 114.01 L494.96 114.12 L495.23 114.23 L495.50 114.34 L495.77 114.45 L496.05 114.56 L496.32 114.68 L496.59 114.79 L496.86 114.90 L497.14 115.01 L497.41 115.13 L497.68 115.24 L497.95 115.35 L498.23 115.46 L498.50 115.58 L498.77 115.69 L499.04 115.80 L499.31 115.92 L499.59 116.03 L499.86 116.15 L500.13 116.26 L500.40 116.38 L500.68 116.49 L500.95 116.61 L501.22 116.72 L501.49 116.84 L501.77 116.95 L502.04 117.07 L502.31 117.19 L502.58 117.30 L502.85 117.42 L503.13 117.54 L503.40 117.66 L503.67 117.77 L503.94 117.89 L504.22 118.01 L504.49 118.13 L504.76 118.25 L505.03 118.36 L505.31 118.48 L505.58 118.60 L505.85 118.72 L506.12 118.84 L506.40 118.96 L506.67 119.08 L506.94 119.20 L507.21 119.32 L507.48 119.44 L507.76 119.56 L508.03 119.69 L508.30 119.81 L508.57 119.93 L508.85 120.05 L509.12 120.17 L509.39 120.30 L509.66 120.42 L509.94 120.54 L510.21 120.66 L510.48 120.79 L510.75 120.91 L511.03 121.03 L511.30 121.16 L511.57 121.28 L511.84 121.41 L512.11 121.53 L512.39 121.66 L512.66 121.78 L512.93 121.91 L513.20 122.03 L513.48 122.16 L513.75 122.29 L514.02 122.41 L514.29 122.54 L514.57 122.67 L514.84 122.79 L515.11 122.92 L515.38 123.05 L515.66 123.18 L515.93 123.30 L516.20 123.43 L516.47 123.56 L516.74 123.69 L517.02 123.82 L517.29 123.95 L517.56 124.08 L517.83 124.21 L518.11 124.34 L518.38 124.47 L518.65 124.60 L518.92 124.73 L519.20 124.86 L519.47 124.99 L519.74 125.12 L520.01 125.25 L520.28 125.39 L520.56 125.52 L520.83 125.65 L521.10 125.78 L521.37 125.92 L521.65 126.05 L521.92 126.18 L522.19 126.32 L522.46 126.45 L522.74 126.59 L523.01 126.72 L523.28 126.85 L523.55 126.99 L523.83 127.13 L524.10 127.26 L524.37 127.40 L524.64 127.53 L524.91 127.67 L525.19 127.81 L525.46 127.94 L525.73 128.08 L526.00 128.22 L526.28 128.35 L526.55 128.49 L526.82 128.63 L527.09 128.77 L527.37 128.91 L527.64 129.05 L527.91 129.18 L528.18 129.32 L528.46 129.46 L528.73 129.60 L529.00 129.74 L529.27 129.88 L529.54 130.02 L529.82 130.16 L530.09 130.31 L530.36 130.45 L530.63 130.59 L530.91 130.73 L531.18 130.87 L531.45 131.02 L531.72 131.16 L532.00 131.30 L532.27 131.44 L532.54 131.59 L532.81 131.73 L533.09 131.88 L533.36 132.02 L533.63 132.16 L533.90 132.31 L534.17 132.45 L534.45 132.60 L534.72 132.75 L534.99 132.89 L535.26 133.04 L535.54 133.18 L535.81 133.33 L536.08 133.48 L536.35 133.63 L536.63 133.77 L536.90 133.92 L537.17 134.07 L537.44 134.22 L537.71 134.37 L537.99 134.51 L538.26 134.66 L538.53 134.81 L538.80 134.96 L539.08 135.11 L539.35 135.26 L539.62 135.41 L539.89 135.56 L540.17 135.72 L540.44 135.87 L540.71 136.02 L540.98 136.17 L541.26 136.32 L541.53 136.48 L541.80 136.63 L542.07 136.78 L542.34 136.93 L542.62 137.09 L542.89 137.24 L543.16 137.40 L543.43 137.55 L543.71 137.71 L543.98 137.86 L544.25 138.02 L544.52 138.17 L544.80 138.33 L545.07 138.48 L545.34 138.64 L545.61 138.80 L545.89 138.95 L546.16 139.11 L546.43 139.27 L546.70 139.43 L546.97 139.59 L547.25 139.74 L547.52 139.90 L547.79 140.06 L548.06 140.22 L548.34 140.38 L548.61 140.54 L548.88 140.70 L549.15 140.86 L549.43 141.02 L549.70 141.18 L549.97 141.34 L550.24 141.51 L550.52 141.67 L550.79 141.83 L551.06 141.99 L551.33 142.16 L551.60 142.32 L551.88 142.48 L552.15 142.65 L552.42 142.81 L552.69 142.97 L552.97 143.14 L553.24 143.30 L553.51 143.47 L553.78 143.64 L554.06 143.80 L554.33 143.97 L554.60 144.13 L554.87 144.30 L555.14 144.47 L555.42 144.64 L555.69 144.80 L555.96 144.97 L556.23 145.14 L556.51 145.31 L556.78 145.48 L557.05 145.65 L557.32 145.82 L557.60 145.99 L557.87 146.16 L558.14 146.33 L558.41 146.50 L558.69 146.67 L558.96 146.84 L559.23 147.01 L559.50 147.18 L559.77 147.36 L560.05 147.53 L560.32 147.70 L560.59 147.88 L560.86 148.05 L561.14 148.22 L561.41 148.40 L561.68 148.57 L561.95 148.75 L562.23 148.92 L562.50 149.10 L562.77 149.27 L563.04 149.45 L563.32 149.63 L563.59 149.80 L563.86 149.98 L564.13 150.16 L564.40 150.34 L564.68 150.51 L564.95 150.69 L565.22 150.87 L565.49 151.05 L565.77 151.23 L566.04 151.41 L566.31 151.59 L566.58 151.77 L566.86 151.95 L567.13 152.13 L567.40 152.31 L567.67 152.50 L567.95 152.68 L568.22 152.86 L568.49 153.04 L568.76 153.23 L569.03 153.41 L569.31 153.59 L569.58 153.78 L569.85 153.96 L570.12 154.15 L570.40 154.33 L570.67 154.52 L570.94 154.70 L571.21 154.89 L571.49 155.08 L571.76 155.26 L572.03 155.45 L572.30 155.64 L572.57 155.82 L572.85 156.01 L573.12 156.20 L573.39 156.39 L573.66 156.58 L573.94 156.77 L574.21 156.96 L574.48 157.15 L574.75 157.34 L575.03 157.53 L575.30 157.72 L575.57 157.91 L575.84 158.11 L576.12 158.30 L576.39 158.49 L576.66 158.68 L576.93 158.88 L577.20 159.07 L577.48 159.27 L577.75 159.46 L578.02 159.66 L578.29 159.85 L578.57 160.05 L578.84 160.24 L579.11 160.44 L579.38 160.64 L579.66 160.83 L579.93 161.03 L580.20 161.23 L580.47 161.43 L580.75 161.63 L581.02 161.82 L581.29 162.02 L581.56 162.22 L581.83 162.42 L582.11 162.62 L582.38 162.82 L582.65 163.03 L582.92 163.23 L583.20 163.43 L583.47 163.63 L583.74 163.83 L584.01 164.04 L584.29 164.24 L584.56 164.44 L584.83 164.65 L585.10 164.85 L585.38 165.06 L585.65 165.26 L585.92 165.47 L586.19 165.67 L586.46 165.88 L586.74 166.09 L587.01 166.30 L587.28 166.50 L587.55 166.71 L587.83 166.92 L588.10 167.13 L588.37 167.34 L588.64 167.55 L588.92 167.76 L589.19 167.97 L589.46 168.18 L589.73 168.39 L590.00 168.60 L590.28 168.81 L590.55 169.02 L590.82 169.24 L591.09 169.45 L591.37 169.66 L591.64 169.88 L591.91 170.09 L592.18 170.31 L592.46 170.52 L592.73 170.74 L593.00 170.95 L593.27 171.17 L593.55 171.39 L593.82 171.60 L594.09 171.82 L594.36 172.04 L594.63 172.26 L594.91 172.48 L595.18 172.70 L595.45 172.92 L595.72 173.14 L596.00 173.36 L596.27 173.58 L596.54 173.80 L596.81 174.02 L597.09 174.24 L597.36 174.47 L597.63 174.69 L597.90 174.91 L598.18 175.14 L598.45 175.36 L598.72 175.58 L598.99 175.81 L599.26 176.04 L599.54 176.26 L599.81 176.49 L600.08 176.71 L600.35 176.94 L600.63 177.17 L600.90 177.40 L601.17 177.63 L601.44 177.86 L601.72 178.08 L601.99 178.31 L602.26 178.55 L602.53 178.78 L602.81 179.01 L603.08 179.24 L603.35 179.47 L603.62 179.70 L603.89 179.94 L604.17 180.17 L604.44 180.40 L604.71 180.64 L604.98 180.87 L605.26 181.11 L605.53 181.34 L605.80 181.58 L606.07 181.82 L606.35 182.05 L606.62 182.29 L606.89 182.53 L607.16 182.77 L607.43 183.01 L607.71 183.25 L607.98 183.49 L608.25 183.73 L608.52 183.97 L608.80 184.21 L609.07 184.45 L609.34 184.69 L609.61 184.94 L609.89 185.18 L610.16 185.42 L610.43 185.67 L610.70 185.91 L610.98 186.16 L611.25 186.40 L611.52 186.65 L611.79 186.89 L612.06 187.14 L612.34 187.39 L612.61 187.64 L612.88 187.89 L613.15 188.13 L613.43 188.38 L613.70 188.63 L613.97 188.88 L614.24 189.13 L614.52 189.39 L614.79 189.64 L615.06 189.89 L615.33 190.14 L615.61 190.40 L615.88 190.65 L616.15 190.91 L616.42 191.16 L616.69 191.42 L616.97 191.67 L617.24 191.93 L617.51 192.19 L617.78 192.44 L618.06 192.70 L618.33 192.96 L618.60 193.22 L618.87 193.48 L619.15 193.74 L619.42 194.00 L619.69 194.26 L619.96 194.52 L620.24 194.78 L620.51 195.05 L620.78 195.31 L621.05 195.57 L621.32 195.84 L621.60 196.10 L621.87 196.37 L622.14 196.63 L622.41 196.90 L622.69 197.17 L622.96 197.43 L623.23 197.70 L623.50 197.97 L623.78 198.24 L624.05 198.51 L624.32 198.78 L624.59 199.05 L624.87 199.32 L625.14 199.59 L625.41 199.87 L625.68 200.14 L625.95 200.41 L626.23 200.69 L626.50 200.96 L626.77 201.24 L627.04 201.51 L627.32 201.79 L627.59 202.07 L627.86 202.35 L628.13 202.62 L628.41 202.90 L628.68 203.18 L628.95 203.46 L629.22 203.74 L629.49 204.02 L629.77 204.30 L630.04 204.59 L630.31 204.87 L630.58 205.15 L630.86 205.44 L631.13 205.72 L631.40 206.01 L631.67 206.29 L631.95 206.58 L632.22 206.87 L632.49 207.15 L632.76 207.44 L633.04 207.73 L633.31 208.02 L633.58 208.31 L633.85 208.60 L634.12 208.89 L634.40 209.18 L634.67 209.48 L634.94 209.77 L635.21 210.06 L635.49 210.36 L635.76 210.65 L636.03 210.95 L636.30 211.25 L636.58 211.54 L636.85 211.84 L637.12 212.14 L637.39 212.44 L637.67 212.74 L637.94 213.04 L638.21 213.34 L638.48 213.64 L638.75 213.94 L639.03 214.25 L639.30 214.55 L639.57 214.85 L639.84 215.16 L640.12 215.46 L640.39 215.77 L640.66 216.08 L640.93 216.38 L641.21 216.69 L641.48 217.00 L641.75 217.31 L642.02 217.62 L642.30 217.93 L642.57 218.24 L642.84 218.56 L643.11 218.87 L643.38 219.18 L643.66 219.50 L643.93 219.81 L644.20 220.13 L644.47 220.44 L644.75 220.76 L645.02 221.08 L645.29 221.40 L645.56 221.72 L645.84 222.04 L646.11 222.36 L646.38 222.68 L646.65 223.00 L646.92 223.32 L647.20 223.65 L647.47 223.97 L647.74 224.30 L648.01 224.62 L648.29 224.95 L648.56 225.28 L648.83 225.61 L649.10 225.93 L649.38 226.26 L649.65 226.59 L649.92 226.93 L650.19 227.26 L650.47 227.59 L650.74 227.92 L651.01 228.26 L651.28 228.59 L651.55 228.93 L651.83 229.27 L652.10 229.60 L652.37 229.94 L652.64 230.28 L652.92 230.62 L653.19 230.96 L653.46 231.30 L653.73 231.64 L654.01 231.99 L654.28 232.33 L654.55 232.68 L654.82 233.02 L655.10 233.37 L655.37 233.72 L655.64 234.06 L655.91 234.41 L656.18 234.76 L656.46 235.11 L656.73 235.46 L657.00 235.82 L657.27 236.17 L657.55 236.52 L657.82 236.88 L658.09 237.23 L658.36 237.59 L658.64 237.95 L658.91 238.31 L659.18 238.66 L659.45 239.02 L659.73 239.39 L660.00 239.75 L660.27 240.11 L660.54 240.47 L660.81 240.84 L661.09 241.20 L661.36 241.57 L661.63 241.94 L661.90 242.31 L662.18 242.67 L662.45 243.04 L662.72 243.42 L662.99 243.79 L663.27 244.16 L663.54 244.53 L663.81 244.91 L664.08 245.28 L664.35 245.66 L664.63 246.04 L664.90 246.42 L665.17 246.80 L665.44 247.18 L665.72 247.56 L665.99 247.94 L666.26 248.32 L666.53 248.71 L666.81 249.09 L667.08 249.48 L667.35 249.87 L667.62 250.26 L667.90 250.65 L668.17 251.04 L668.44 251.43 L668.71 251.82 L668.98 252.22 L669.26 252.61 L669.53 253.01 L669.80 253.40 L670.07 253.80 L670.35 254.20 L670.62 254.60 L670.89 255.00 L671.16 255.40 L671.44 255.81 L671.71 256.21 L671.98 256.62 L672.25 257.02 L672.53 257.43 L672.80 257.84 L673.07 258.25 L673.34 258.66 L673.61 259.07 L673.89 259.49 L674.16 259.90 L674.43 260.32 L674.70 260.73 L674.98 261.15 L675.25 261.57 L675.52 261.99 L675.79 262.41 L676.07 262.84 L676.34 263.26 L676.61 263.69 L676.88 264.11 L677.16 264.54 L677.29 264.75 L677.43 264.97 L677.56 265.18 L677.70 265.40 L677.84 265.61 L677.97 265.83 L678.11 266.05 L678.24 266.26 L678.38 266.48 L678.52 266.70 L678.65 266.91 L678.79 267.13 L678.93 267.35 L679.06 267.57 L679.20 267.79 L679.33 268.01 L679.47 268.23 L679.61 268.45 L679.74 268.67 L679.88 268.89 L680.01 269.11 L680.15 269.33 L680.29 269.55 L680.42 269.77 L680.56 269.99 L680.70 270.21 L680.83 270.44 L680.97 270.66 L681.10 270.88 L681.24 271.11 L681.38 271.33 L681.51 271.56 L681.65 271.78 L681.78 272.01 L681.92 272.23 L682.06 272.46 L682.19 272.68 L682.33 272.91 L682.47 273.14 L682.60 273.36 L682.74 273.59 L682.87 273.82 L683.01 274.05 L683.15 274.27 L683.28 274.50 L683.42 274.73 L683.56 274.96 L683.69 275.19 L683.83 275.42 L683.96 275.65 L684.10 275.88 L684.24 276.11 L684.37 276.35 L684.51 276.58 L684.64 276.81 L684.78 277.04 L684.92 277.28 L685.05 277.51 L685.19 277.74 L685.33 277.98 L685.46 278.21 L685.60 278.45 L685.73 278.68 L685.87 278.92 L686.01 279.16 L686.14 279.39 L686.28 279.63 L686.41 279.87 L686.55 280.10 L686.69 280.34 L686.82 280.58 L686.96 280.82 L687.10 281.06 L687.23 281.30 L687.37 281.54 L687.50 281.78 L687.64 282.02 L687.78 282.26 L687.91 282.50 L688.05 282.74 L688.19 282.98 L688.32 283.23 L688.46 283.47 L688.59 283.71 L688.73 283.96 L688.87 284.20 L689.00 284.45 L689.14 284.69 L689.27 284.94 L689.41 285.18 L689.55 285.43 L689.68 285.68 L689.82 285.92 L689.96 286.17 L690.09 286.42 L690.23 286.67 L690.36 286.92 L690.50 287.17 L690.64 287.42 L690.77 287.67 L690.91 287.92 L691.04 288.17 L691.18 288.42 L691.32 288.67 L691.45 288.92 L691.59 289.17 L691.73 289.43 L691.86 289.68 L692.00 289.94 L692.13 290.19 L692.27 290.44 L692.41 290.70 L692.54 290.96 L692.68 291.21 L692.81 291.47 L692.95 291.73 L693.09 291.98 L693.22 292.24 L693.36 292.50 L693.50 292.76 L693.63 293.02 L693.77 293.28 L693.90 293.54 L694.04 293.80 L694.18 294.06 L694.31 294.32 L694.45 294.58 L694.59 294.85 L694.72 295.11 L694.86 295.37 L694.99 295.64 L695.13 295.90 L695.27 296.17 L695.40 296.43 L695.54 296.70 L695.67 296.96 L695.81 297.23 L695.95 297.50 L696.08 297.77 L696.22 298.03 L696.36 298.30 L696.49 298.57 L696.63 298.84 L696.76 299.11 L696.90 299.38 L697.04 299.66 L697.17 299.93 L697.31 300.20 L697.44 300.47 L697.58 300.75 L697.72 301.02 L697.85 301.30 L697.99 301.57 L698.13 301.85 L698.26 302.12 L698.40 302.40 L698.53 302.68 L698.67 302.95 L698.81 303.23 L698.94 303.51 L699.08 303.79 L699.21 304.07 L699.35 304.35 L699.49 304.63 L699.62 304.91 L699.76 305.19 L699.90 305.48 L700.03 305.76 L700.17 306.04 L700.30 306.33 L700.44 306.61 L700.58 306.90 L700.71 307.18 L700.85 307.47 L700.99 307.76 L701.12 308.04 L701.26 308.33 L701.39 308.62 L701.53 308.91 L701.67 309.20 L701.80 309.49 L701.94 309.78 L702.07 310.07 L702.21 310.37 L702.35 310.66 L702.48 310.95 L702.62 311.25 L702.76 311.54 L702.89 311.84 L703.03 312.13 L703.16 312.43 L703.30 312.73 L703.44 313.03 L703.57 313.32 L703.71 313.62 L703.84 313.92 L703.98 314.22 L704.12 314.52 L704.25 314.83 L704.39 315.13 L704.53 315.43 L704.66 315.74 L704.80 316.04 L704.93 316.34 L705.07 316.65 L705.21 316.96 L705.34 317.26 L705.48 317.57 L705.62 317.88 L705.75 318.19 L705.89 318.50 L706.02 318.81 L706.16 319.12 L706.30 319.43 L706.43 319.74 L706.57 320.06 L706.70 320.37 L706.84 320.69 L706.98 321.00 L707.11 321.32 L707.25 321.63 L707.39 321.95 L707.52 322.27 L707.66 322.59 L707.79 322.91 L707.93 323.23 L708.07 323.55 L708.20 323.87 L708.34 324.19 L708.47 324.52 L708.61 324.84 L708.75 325.16 L708.88 325.49 L709.02 325.82 L709.16 326.14 L709.29 326.47 L709.43 326.80 L709.56 327.13 L709.70 327.46 L709.84 327.79 L709.97 328.12 L710.11 328.46 L710.24 328.79 L710.38 329.12 L710.52 329.46 L710.65 329.80 L710.79 330.13 L710.93 330.47 L711.06 330.81 L711.20 331.15 L711.33 331.49 L711.47 331.83 L711.61 332.17 L711.74 332.51 L711.88 332.86 L712.02 333.20 L712.15 333.55 L712.29 333.89 L712.42 334.24 L712.56 334.59 L712.70 334.94 L712.83 335.29 L712.97 335.64 L713.10 335.99 L713.24 336.34 L713.38 336.70 L713.51 337.05 L713.65 337.41 L713.79 337.76 L713.92 338.12 L714.06 338.48 L714.19 338.84 L714.33 339.20 L714.47 339.56 L714.60 339.92 L714.74 340.28 L714.87 340.65 L715.01 341.01 L715.15 341.38 L715.28 341.75 L715.42 342.12 L715.56 342.49 L715.69 342.86 L715.83 343.23 L715.96 343.60 L716.10 343.97 L716.24 344.35 L716.37 344.72 L716.51 345.10 L716.64 345.48 L716.78 345.86 L716.92 346.24 L717.05 346.62 L717.19 347.00 L717.33 347.39 L717.46 347.77 L717.60 348.16 L717.73 348.54 L717.87 348.93 L718.01 349.32 L718.14 349.71 L718.28 350.10 L718.42 350.50 L718.55 350.89 L718.69 351.29 L718.82 351.68 L718.96 352.08 L719.10 352.48 L719.23 352.88 L719.37 353.28 L719.50 353.68 L719.64 354.09 L719.78 354.49 L719.91 354.90 L720.05 355.31 L720.19 355.72 L720.32 356.13 L720.46 356.54 L720.59 356.96 L720.73 357.37 L720.87 357.79 L721.00 358.20 L721.14 358.62 L721.27 359.04 L721.41 359.47 L721.55 359.89 L721.68 360.32 L721.82 360.74 L721.96 361.17 L722.09 361.60 L722.23 362.03 L722.36 362.46 L722.50 362.90 L722.64 363.33 L722.77 363.77 L722.91 364.21 L723.05 364.65 L723.18 365.09 L723.32 365.53 L723.45 365.98 L723.59 366.43 L723.73 366.87 L723.86 367.33 L724.00 367.78 L724.13 368.23 L724.27 368.69 L724.41 369.14 L724.54 369.60 L724.68 370.06 L724.82 370.53 L724.95 370.99 L725.09 371.46 L725.22 371.93 L725.36 372.40 L725.50 372.87 L725.63 373.34 L725.77 373.82 L725.90 374.30 L726.04 374.78 L726.18 375.26 L726.31 375.74 L726.45 376.23 L726.59 376.71 L726.72 377.20 L726.86 377.70 L726.99 378.19 L727.13 378.69 L727.27 379.19 L727.40 379.69 L727.54 380.19 L727.67 380.70 L727.81 381.20 L727.95 381.71 L728.08 382.23 L728.22 382.74 L728.36 383.26 L728.49 383.78 L728.63 384.30 L728.76 384.83 L728.90 385.35 L729.04 385.88 L729.17 386.42 L729.31 386.95 L729.45 387.49 L729.58 388.03 L729.72 388.57 L729.85 389.12 L729.99 389.67 L730.13 390.22 L730.26 390.77 L730.40 391.33 L730.53 391.89 L730.67 392.45 L730.81 393.02 L730.94 393.59 L731.08 394.16 L731.22 394.74 L731.35 395.32 L731.49 395.90 L731.62 396.48 L731.76 397.07 L731.90 397.66 L732.03 398.26 L732.17 398.86 L732.30 399.46 L732.44 400.07 L732.58 400.68 L732.71 401.29 L732.85 401.91 L732.99 402.53 L733.12 403.16 L733.26 403.79 L733.39 404.42 L733.53 405.06 L733.67 405.70 L733.80 406.35 L733.94 407.00 L734.07 407.65 L734.21 408.31 L734.35 408.97 L734.48 409.64 L734.62 410.32 L734.76 410.99 L734.89 411.68 L735.03 412.37 L735.16 413.06 L735.30 413.76 L735.44 414.46 L735.57 415.17 L735.71 415.88 L735.85 416.60 L735.98 417.33 L736.12 418.06 L736.25 418.80 L736.39 419.55 L736.53 420.30 L736.66 421.05 L736.80 421.82 L736.93 422.59 L737.07 423.36 L737.21 424.15 L737.34 424.94 L737.48 425.74 L737.62 426.54 L737.75 427.36 L737.89 428.18 L738.02 429.01 L738.16 429.84 L738.30 430.69 L738.43 431.55 L738.57 432.41 L738.70 433.28 L738.84 434.17 L738.98 435.06 L739.11 435.96 L739.25 436.87 L739.39 437.80 L739.52 438.73 L739.66 439.68 L739.79 440.63 L739.93 441.60 L740.07 442.58 L740.20 443.58 L740.34 444.58 L740.48 445.60 L740.61 446.64 L740.75 447.69 L740.88 448.75 L741.02 449.83 L741.16 450.93 L741.29 452.04 L741.43 453.17 L741.56 454.32 L741.70 455.49 L741.84 456.68 L741.97 457.88 L742.11 459.11 L742.25 460.36 L742.38 461.64 L742.52 462.94 L742.65 464.26 L742.79 465.61 L742.93 466.99 L743.06 468.40 L743.20 469.85 L743.33 471.32 L743.47 472.83 L743.61 474.37 L743.74 475.96 L743.88 477.58 L744.02 479.26 L744.15 480.97 L744.29 482.74 L744.42 484.56 L744.56 486.44 L744.70 488.38 L744.83 490.39 L744.97 492.47 L745.10 494.63 L745.24 496.88 L745.38 499.22 L745.51 501.67 L745.65 504.23 L745.79 506.92 L745.92 509.75 L746.06 512.75 L746.19 515.92 L746.33 519.31 L746.47 522.94 L746.60 526.85 L746.74 531.10 L746.88 535.76 L747.01 540.91 L747.15 546.69 L747.28 553.28 L747.42 560.97 L747.56 570.22 L747.69 581.87 L747.83 597.72 L747.96 610.17 L748.37 609.90 L748.51 591.04 L748.65 578.21 L748.78 568.52 L748.92 560.75 L749.05 554.28 L749.19 548.76 L749.33 543.94 L749.46 539.69 L749.60 535.89 L749.73 532.45 L749.87 529.33 L750.01 526.47 L750.14 523.83 L750.28 521.39 L750.42 519.12 L750.55 517.01 L750.69 515.03 L750.82 513.17 L750.96 511.42 L751.10 509.77 L751.23 508.21 L751.37 506.74 L751.51 505.34 L751.64 504.01 L751.78 502.75 L751.91 501.55 L752.05 500.40 L752.19 499.31 L752.32 498.26 L752.46 497.26 L752.59 496.31 L752.73 495.39 L752.87 494.52 L753.00 493.68 L753.14 492.87 L753.28 492.10 L753.41 491.36 L753.55 490.65 L753.68 489.96 L753.82 489.31 L753.96 488.68 L754.09 488.07 L754.23 487.49 L754.36 486.93 L754.50 486.39 L754.64 485.87 L754.77 485.38 L754.91 484.90 L755.05 484.44 L755.18 484.00 L755.32 483.57 L755.45 483.17 L755.59 482.78 L755.73 482.40 L755.86 482.04 L756.00 481.70 L756.13 481.37 L756.27 481.05 L756.41 480.75 L756.54 480.46 L756.68 480.18 L756.82 479.91 L756.95 479.66 L757.09 479.42 L757.22 479.19 L757.36 478.98 L757.63 478.57 L757.91 478.21 L758.18 477.89 L758.45 477.62 L758.72 477.37 L758.99 477.17 L759.27 477.00 L759.54 476.86 L759.81 476.76 L760.22 476.66 L760.63 476.64 L761.04 476.69 L761.45 476.80 L761.72 476.91 L761.99 477.04 L762.26 477.21 L762.53 477.40 L762.81 477.62 L763.08 477.87 L763.35 478.15 L763.62 478.45 L763.90 478.78 L764.17 479.14 L764.44 479.52 L764.71 479.93 L764.85 480.15 L764.99 480.37 L765.12 480.60 L765.26 480.84 L765.39 481.08 L765.53 481.33 L765.67 481.59 L765.80 481.86 L765.94 482.13 L766.08 482.41 L766.21 482.70 L766.35 482.99 L766.48 483.29 L766.62 483.60 L766.76 483.92 L766.89 484.25 L767.03 484.58 L767.16 484.92 L767.30 485.27 L767.44 485.62 L767.57 485.99 L767.71 486.36 L767.85 486.74 L767.98 487.13 L768.12 487.53 L768.25 487.94 L768.39 488.35 L768.53 488.78 L768.66 489.21 L768.80 489.65 L768.94 490.11 L769.07 490.57 L769.21 491.04 L769.34 491.53 L769.48 492.02 L769.62 492.52 L769.75 493.04 L769.89 493.56 L770.02 494.10 L770.16 494.64 L770.30 495.20 L770.43 495.78 L770.57 496.36 L770.71 496.96 L770.84 497.57 L770.98 498.19 L771.11 498.82 L771.25 499.48 L771.39 500.14 L771.52 500.82 L771.66 501.52 L771.79 502.23 L771.93 502.96 L772.07 503.70 L772.20 504.46 L772.34 505.24 L772.48 506.04 L772.61 506.86 L772.75 507.70 L772.88 508.56 L773.02 509.45 L773.16 510.35 L773.29 511.28 L773.43 512.24 L773.56 513.22 L773.70 514.23 L773.84 515.26 L773.97 516.33 L774.11 517.43 L774.25 518.56 L774.38 519.72 L774.52 520.93 L774.65 522.17 L774.79 523.45 L774.93 524.78 L775.06 526.16 L775.20 527.58 L775.34 529.06 L775.47 530.60 L775.61 532.19 L775.74 533.86 L775.88 535.59 L776.02 537.41 L776.15 539.30 L776.29 541.30 L776.42 543.39 L776.56 545.59 L776.70 547.92 L776.83 550.39 L776.97 553.02 L777.11 555.83 L777.24 558.83 L777.38 562.07 L777.51 565.59 L777.65 569.42 L777.79 573.64 L777.92 578.33 L778.06 583.62 L778.19 589.65 L778.33 596.70 L778.47 605.17 L778.60 610.17 L779.01 610.17 L779.42 610.17 L779.69 605.46 L779.83 596.95 L779.96 589.87 L780.10 583.81 L780.24 578.51 L780.37 573.81 L780.51 569.58 L780.65 565.74 L780.78 562.22 L780.92 558.98 L781.05 555.96 L781.19 553.16 L781.33 550.53 L781.46 548.06 L781.60 545.72 L781.74 543.52 L781.87 541.42 L782.01 539.43 L782.14 537.53 L782.28 535.72 L782.42 533.98 L782.55 532.31 L782.69 530.71 L782.82 529.18 L782.96 527.70 L783.10 526.27 L783.23 524.89 L783.37 523.56 L783.51 522.27 L783.64 521.03 L783.78 519.82 L783.91 518.65 L784.05 517.51 L784.19 516.41 L784.32 515.34 L784.46 514.30 L784.59 513.28 L784.73 512.29 L784.87 511.33 L785.00 510.39 L785.14 509.48 L785.28 508.59 L785.41 507.72 L785.55 506.87 L785.68 506.04 L785.82 505.22 L785.96 504.43 L786.09 503.66 L786.23 502.90 L786.37 502.16 L786.50 501.43 L786.64 500.72 L786.77 500.02 L786.91 499.34 L787.05 498.67 L787.18 498.01 L787.32 497.37 L787.45 496.74 L787.59 496.12 L787.73 495.52 L787.86 494.92 L788.00 494.34 L788.14 493.77 L788.27 493.20 L788.41 492.65 L788.54 492.11 L788.68 491.58 L788.82 491.05 L788.95 490.54 L789.09 490.04 L789.22 489.54 L789.36 489.05 L789.50 488.57 L789.63 488.10 L789.77 487.64 L789.91 487.18 L790.04 486.74 L790.18 486.30 L790.31 485.86 L790.45 485.44 L790.59 485.02 L790.72 484.61 L790.86 484.20 L790.99 483.80 L791.13 483.41 L791.27 483.02 L791.40 482.64 L791.54 482.27 L791.68 481.90 L791.81 481.54 L791.95 481.18 L792.08 480.83 L792.22 480.49 L792.36 480.15 L792.49 479.82 L792.63 479.49 L792.77 479.16 L792.90 478.84 L793.04 478.53 L793.17 478.22 L793.31 477.92 L793.45 477.62 L793.58 477.32 L793.72 477.03 L793.85 476.75 L793.99 476.47 L794.13 476.19 L794.26 475.92 L794.40 475.65 L794.54 475.39 L794.67 475.13 L794.81 474.88 L794.94 474.63 L795.08 474.38 L795.22 474.14 L795.35 473.90 L795.49 473.66 L795.62 473.43 L795.76 473.20 L795.90 472.98 L796.03 472.76 L796.17 472.54 L796.44 472.12 L796.71 471.71 L796.99 471.32 L797.26 470.94 L797.53 470.57 L797.80 470.22 L798.08 469.87 L798.35 469.55 L798.62 469.23 L798.89 468.92 L799.17 468.63 L799.44 468.35 L799.71 468.08 L799.98 467.82 L800.25 467.57 L800.53 467.34 L800.80 467.11 L801.07 466.90 L801.34 466.69 L801.62 466.50 L801.89 466.31 L802.16 466.14 L802.43 465.97 L802.71 465.82 L802.98 465.68 L803.25 465.54 L803.52 465.42 L803.80 465.30 L804.07 465.19 L804.34 465.10 L804.61 465.01 L804.88 464.93 L805.29 464.83 L805.70 464.75 L806.11 464.69 L806.52 464.65 L806.93 464.64 L807.34 464.64 L807.74 464.66 L808.15 464.70 L808.56 464.76 L808.97 464.84 L809.38 464.94 L809.65 465.02 L809.92 465.10 L810.20 465.20 L810.47 465.30 L810.74 465.42 L811.01 465.54 L811.28 465.67 L811.56 465.81 L811.83 465.96 L812.10 466.12 L812.37 466.28 L812.65 466.46 L812.92 466.65 L813.19 466.84 L813.46 467.05 L813.74 467.26 L814.01 467.48 L814.28 467.72 L814.55 467.96 L814.82 468.21 L815.10 468.47 L815.37 468.75 L815.64 469.03 L815.91 469.32 L816.19 469.62 L816.46 469.94 L816.73 470.26 L817.00 470.60 L817.28 470.94 L817.55 471.30 L817.82 471.67 L818.09 472.05 L818.37 472.44 L818.64 472.85 L818.91 473.26 L819.18 473.69 L819.32 473.91 L819.45 474.13 L819.59 474.36 L819.73 474.59 L819.86 474.82 L820.00 475.05 L820.14 475.29 L820.27 475.53 L820.41 475.78 L820.54 476.03 L820.68 476.28 L820.82 476.54 L820.95 476.80 L821.09 477.06 L821.23 477.33 L821.36 477.60 L821.50 477.87 L821.63 478.15 L821.77 478.43 L821.91 478.72 L822.04 479.01 L822.18 479.30 L822.31 479.60 L822.45 479.90 L822.59 480.21 L822.72 480.52 L822.86 480.83 L823.00 481.15 L823.13 481.48 L823.27 481.81 L823.40 482.14 L823.54 482.48 L823.68 482.82 L823.81 483.17 L823.95 483.52 L824.08 483.88 L824.22 484.24 L824.36 484.61 L824.49 484.98 L824.63 485.36 L824.77 485.74 L824.90 486.13 L825.04 486.53 L825.17 486.93 L825.31 487.33 L825.45 487.75 L825.58 488.17 L825.72 488.59 L825.85 489.02 L825.99 489.46 L826.13 489.90 L826.26 490.36 L826.40 490.81 L826.54 491.28 L826.67 491.75 L826.81 492.23 L826.94 492.72 L827.08 493.21 L827.22 493.72 L827.35 494.23 L827.49 494.75 L827.63 495.28 L827.76 495.81 L827.90 496.36 L828.03 496.91 L828.17 497.48 L828.31 498.05 L828.44 498.64 L828.58 499.23 L828.71 499.84 L828.85 500.45 L828.99 501.08 L829.12 501.72 L829.26 502.37 L829.40 503.03 L829.53 503.71 L829.67 504.39 L829.80 505.10 L829.94 505.81 L830.08 506.54 L830.21 507.29 L830.35 508.05 L830.48 508.83 L830.62 509.62 L830.76 510.43 L830.89 511.26 L831.03 512.11 L831.17 512.98 L831.30 513.87 L831.44 514.77 L831.57 515.71 L831.71 516.66 L831.85 517.64 L831.98 518.64 L832.12 519.67 L832.26 520.73 L832.39 521.82 L832.53 522.94 L832.66 524.09 L832.80 525.28 L832.94 526.50 L833.07 527.77 L833.21 529.07 L833.34 530.42 L833.48 531.81 L833.62 533.25 L833.75 534.75 L833.89 536.31 L834.03 537.92 L834.16 539.61 L834.30 541.36 L834.43 543.20 L834.57 545.12 L834.71 547.13 L834.84 549.25 L834.98 551.48 L835.11 553.84 L835.25 556.34 L835.39 559.00 L835.52 561.85 L835.66 564.90 L835.80 568.19 L835.93 571.77 L836.07 575.67 L836.20 579.98 L836.34 584.79 L836.48 590.21 L836.61 596.43 L836.75 603.74 L836.88 610.17 L837.29 610.17 L837.70 610.17 L838.11 608.67 L838.25 600.50 L838.38 593.66 L838.52 587.77 L838.66 582.59 L838.79 577.99 L838.93 573.83 L839.06 570.05 L839.20 566.57 L839.34 563.36 L839.47 560.38 L839.61 557.59 L839.74 554.98 L839.88 552.52 L840.02 550.19 L840.15 547.99 L840.29 545.90 L840.43 543.90 L840.56 542.00 L840.70 540.18 L840.83 538.43 L840.97 536.76 L841.11 535.14 L841.24 533.59 L841.38 532.10 L841.51 530.66 L841.65 529.26 L841.79 527.91 L841.92 526.61 L842.06 525.34 L842.20 524.11 L842.33 522.92 L842.47 521.76 L842.60 520.63 L842.74 519.54 L842.88 518.47 L843.01 517.43 L843.15 516.41 L843.28 515.42 L843.42 514.46 L843.56 513.52 L843.69 512.60 L843.83 511.69 L843.97 510.81 L844.10 509.95 L844.24 509.11 L844.37 508.29 L844.51 507.48 L844.65 506.69 L844.78 505.91 L844.92 505.15 L845.06 504.40 L845.19 503.67 L845.33 502.95 L845.46 502.25 L845.60 501.56 L845.74 500.88 L845.87 500.21 L846.01 499.55 L846.14 498.91 L846.28 498.27 L846.42 497.65 L846.55 497.04 L846.69 496.44 L846.83 495.84 L846.96 495.26 L847.10 494.68 L847.23 494.12 L847.37 493.56 L847.51 493.02 L847.64 492.48 L847.78 491.95 L847.91 491.42 L848.05 490.91 L848.19 490.40 L848.32 489.90 L848.46 489.40 L848.60 488.92 L848.73 488.44 L848.87 487.97 L849.00 487.50 L849.14 487.04 L849.28 486.59 L849.41 486.14 L849.55 485.70 L849.69 485.26 L849.82 484.83 L849.96 484.41 L850.09 483.99 L850.23 483.58 L850.37 483.17 L850.50 482.77 L850.64 482.37 L850.77 481.98 L850.91 481.59 L851.05 481.21 L851.18 480.83 L851.32 480.46 L851.46 480.09 L851.59 479.73 L851.73 479.37 L851.86 479.02 L852.00 478.67 L852.14 478.32 L852.27 477.98 L852.41 477.64 L852.54 477.31 L852.68 476.98 L852.82 476.65 L852.95 476.33 L853.09 476.02 L853.23 475.70 L853.36 475.39 L853.50 475.09 L853.63 474.78 L853.77 474.48 L853.91 474.19 L854.04 473.89 L854.18 473.61 L854.31 473.32 L854.45 473.04 L854.59 472.76 L854.72 472.48 L854.86 472.21 L855.00 471.94 L855.13 471.68 L855.27 471.41 L855.40 471.15 L855.54 470.90 L855.68 470.64 L855.81 470.39 L855.95 470.14 L856.09 469.90 L856.22 469.65 L856.36 469.42 L856.49 469.18 L856.63 468.94 L856.77 468.71 L856.90 468.48 L857.04 468.26 L857.17 468.03 L857.31 467.81 L857.45 467.60 L857.58 467.38 L857.86 466.96 L858.13 466.54 L858.40 466.14 L858.67 465.74 L858.94 465.36 L859.22 464.98 L859.49 464.61 L859.76 464.26 L860.03 463.91 L860.31 463.57 L860.58 463.23 L860.85 462.91 L861.12 462.59 L861.40 462.29 L861.67 461.99 L861.94 461.69 L862.21 461.41 L862.49 461.13 L862.76 460.86 L863.03 460.60 L863.30 460.35 L863.57 460.10 L863.85 459.86 L864.12 459.63 L864.39 459.40 L864.66 459.18 L864.94 458.97 L865.21 458.77 L865.48 458.57 L865.75 458.38 L866.03 458.19 L866.30 458.01 L866.57 457.84 L866.84 457.68 L867.12 457.52 L867.39 457.37 L867.66 457.22 L867.93 457.08 L868.20 456.95 L868.48 456.82 L868.75 456.70 L869.02 456.58 L869.29 456.47 L869.57 456.37 L869.84 456.27 L870.11 456.18 L870.38 456.10 L870.66 456.02 L871.06 455.91 L871.47 455.82 L871.88 455.74 L872.29 455.67 L872.70 455.61 L873.11 455.57 L873.52 455.54 L873.92 455.53 L874.20 455.53" stroke="#1f77c4" stroke-width="1.3"/>
<path d="M57.0 73.95 L189.85 73.95 L189.85 414.9 L874.3 414.9" stroke="#f87c7c" stroke-width="1.8" stroke-dasharray="9 3.785" stroke-dashoffset="1.1" stroke-linejoin="miter"/>
<path d="M57.0 73.95 L740.75 73.95 L740.75 539.4" stroke="#f87c7c" stroke-width="1.8" stroke-dasharray="9 3.785" stroke-dashoffset="8.4" stroke-linejoin="miter"/>
</g>
<path d="M83.50 539.4 v-3.5 M83.50 51.5 v3.5 M110.50 539.4 v-3.5 M110.50 51.5 v3.5 M137.00 539.4 v-3.5 M137.00 51.5 v3.5 M163.50 539.4 v-3.5 M163.50 51.5 v3.5 M190.45 539.4 v-6.7 M190.45 51.5 v6.7 M216.50 539.4 v-3.5 M216.50 51.5 v3.5 M243.50 539.4 v-3.5 M243.50 51.5 v3.5 M270.00 539.4 v-3.5 M270.00 51.5 v3.5 M296.50 539.4 v-3.5 M296.50 51.5 v3.5 M323.47 539.4 v-6.7 M323.47 51.5 v6.7 M349.50 539.4 v-3.5 M349.50 51.5 v3.5 M376.50 539.4 v-3.5 M376.50 51.5 v3.5 M403.00 539.4 v-3.5 M403.00 51.5 v3.5 M429.50 539.4 v-3.5 M429.50 51.5 v3.5 M456.50 539.4 v-6.7 M456.50 51.5 v6.7 M482.50 539.4 v-3.5 M482.50 51.5 v3.5 M509.50 539.4 v-3.5 M509.50 51.5 v3.5 M536.00 539.4 v-3.5 M536.00 51.5 v3.5 M562.50 539.4 v-3.5 M562.50 51.5 v3.5 M588.55 539.4 v-6.7 M588.55 51.5 v6.7 M615.50 539.4 v-3.5 M615.50 51.5 v3.5 M642.50 539.4 v-3.5 M642.50 51.5 v3.5 M669.00 539.4 v-3.5 M669.00 51.5 v3.5 M695.50 539.4 v-3.5 M695.50 51.5 v3.5 M721.80 539.4 v-6.7 M721.80 51.5 v6.7 M748.50 539.4 v-3.5 M748.50 51.5 v3.5 M775.50 539.4 v-3.5 M775.50 51.5 v3.5 M802.00 539.4 v-3.5 M802.00 51.5 v3.5 M828.50 539.4 v-3.5 M828.50 51.5 v3.5 M855.05 539.4 v-6.7 M855.05 51.5 v6.7 M874.3 74.10 h-6.7 M57.0 98.47 h3.5 M874.3 98.47 h-3.5 M57.0 122.83 h6.7 M874.3 122.83 h-6.7 M57.0 147.20 h3.5 M874.3 147.20 h-3.5 M57.0 171.57 h6.7 M874.3 171.57 h-6.7 M57.0 195.93 h3.5 M874.3 195.93 h-3.5 M57.0 220.30 h6.7 M874.3 220.30 h-6.7 M57.0 244.67 h3.5 M874.3 244.67 h-3.5 M57.0 269.03 h6.7 M874.3 269.03 h-6.7 M57.0 293.40 h3.5 M874.3 293.40 h-3.5 M57.0 317.77 h6.7 M874.3 317.77 h-6.7 M57.0 342.13 h3.5 M874.3 342.13 h-3.5 M57.0 366.50 h6.7 M874.3 366.50 h-6.7 M57.0 390.87 h3.5 M874.3 390.87 h-3.5 M57.0 415.23 h6.7 M874.3 415.23 h-6.7 M57.0 439.60 h3.5 M874.3 439.60 h-3.5 M57.0 463.97 h6.7 M874.3 463.97 h-6.7 M57.0 488.33 h3.5 M874.3 488.33 h-3.5 M57.0 512.70 h6.7 M874.3 512.70 h-6.7 M57.0 536.60 h3.5 M874.3 536.60 h-3.5" stroke="#333333" stroke-width="1" fill="none"/>
<path d="M57.0 51.5 H874.3 V539.4 H57.0" fill="none" stroke="#333333" stroke-width="1.15"/>
<line x1="57.1" y1="50.95" x2="57.1" y2="539.9499999999999" stroke="#4d4d4d" stroke-width="1.55"/>
<line x1="56.3" y1="73.95" x2="58.5" y2="73.95" stroke="#f87c7c" stroke-width="1.8"/>
<text transform="translate(57.50 557.2) scale(1.04 1)" font-size="13.6" text-anchor="middle" font-family="Liberation Sans, sans-serif" fill="#262626" stroke="#262626" stroke-width="0.3">0</text>
<text transform="translate(190.46 557.2) scale(1.04 1)" font-size="13.6" text-anchor="middle" font-family="Liberation Sans, sans-serif" fill="#262626" stroke="#262626" stroke-width="0.3">10</text>
<text transform="translate(323.42 557.2) scale(1.04 1)" font-size="13.6" text-anchor="middle" font-family="Liberation Sans, sans-serif" fill="#262626" stroke="#262626" stroke-width="0.3">20</text>
<text transform="translate(456.38 557.2) scale(1.04 1)" font-size="13.6" text-anchor="middle" font-family="Liberation Sans, sans-serif" fill="#262626" stroke="#262626" stroke-width="0.3">30</text>
<text transform="translate(589.33 557.2) scale(1.04 1)" font-size="13.6" text-anchor="middle" font-family="Liberation Sans, sans-serif" fill="#262626" stroke="#262626" stroke-width="0.3">40</text>
<text transform="translate(722.29 557.2) scale(1.04 1)" font-size="13.6" text-anchor="middle" font-family="Liberation Sans, sans-serif" fill="#262626" stroke="#262626" stroke-width="0.3">50</text>
<text transform="translate(855.25 557.2) scale(1.04 1)" font-size="13.6" text-anchor="middle" font-family="Liberation Sans, sans-serif" fill="#262626" stroke="#262626" stroke-width="0.3">60</text>
<text transform="translate(51.2 78.95) scale(1.02 1)" font-size="13.6" text-anchor="end" font-family="Liberation Sans, sans-serif" fill="#262626" stroke="#262626" stroke-width="0.3">0</text>
<text transform="translate(51.2 127.68) scale(1.02 1)" font-size="13.6" text-anchor="end" font-family="Liberation Sans, sans-serif" fill="#262626" stroke="#262626" stroke-width="0.3">-10</text>
<text transform="translate(51.2 176.42) scale(1.02 1)" font-size="13.6" text-anchor="end" font-family="Liberation Sans, sans-serif" fill="#262626" stroke="#262626" stroke-width="0.3">-20</text>
<text transform="translate(51.2 225.15) scale(1.02 1)" font-size="13.6" text-anchor="end" font-family="Liberation Sans, sans-serif" fill="#262626" stroke="#262626" stroke-width="0.3">-30</text>
<text transform="translate(51.2 273.88) scale(1.02 1)" font-size="13.6" text-anchor="end" font-family="Liberation Sans, sans-serif" fill="#262626" stroke="#262626" stroke-width="0.3">-40</text>
<text transform="translate(51.2 322.62) scale(1.02 1)" font-size="13.6" text-anchor="end" font-family="Liberation Sans, sans-serif" fill="#262626" stroke="#262626" stroke-width="0.3">-50</text>
<text transform="translate(51.2 371.35) scale(1.02 1)" font-size="13.6" text-anchor="end" font-family="Liberation Sans, sans-serif" fill="#262626" stroke="#262626" stroke-width="0.3">-60</text>
<text transform="translate(51.2 420.08) scale(1.02 1)" font-size="13.6" text-anchor="end" font-family="Liberation Sans, sans-serif" fill="#262626" stroke="#262626" stroke-width="0.3">-70</text>
<text transform="translate(51.2 468.82) scale(1.02 1)" font-size="13.6" text-anchor="end" font-family="Liberation Sans, sans-serif" fill="#262626" stroke="#262626" stroke-width="0.3">-80</text>
<text transform="translate(51.2 517.55) scale(1.02 1)" font-size="13.6" text-anchor="end" font-family="Liberation Sans, sans-serif" fill="#262626" stroke="#262626" stroke-width="0.3">-90</text>
<text transform="translate(465.6 45.9) scale(1.006 1)" font-size="16" text-anchor="middle" font-family="Liberation Sans, sans-serif" fill="#262626" stroke="#262626" stroke-width="0.35">Magnitude Response (dB)</text>
<text transform="translate(465.5 577.3) scale(1.006 1)" font-size="16" text-anchor="middle" font-family="Liberation Sans, sans-serif" fill="#262626" stroke="#262626" stroke-width="0.35">Frequency (MHz)</text>
<text transform="translate(21.3 294.9) rotate(-90) scale(1.006 1)" font-size="16" text-anchor="middle" font-family="Liberation Sans, sans-serif" fill="#262626" stroke="#262626" stroke-width="0.35">Magnitude (dB)</text>
</svg>
</body></html>
